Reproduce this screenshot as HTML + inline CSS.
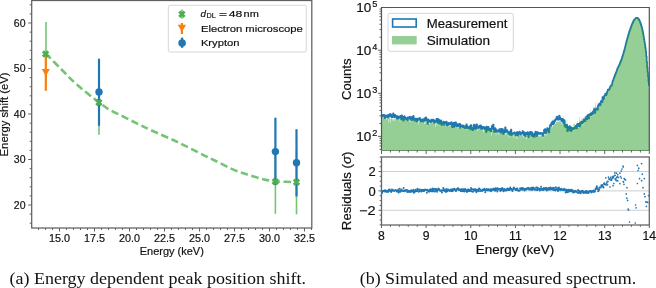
<!DOCTYPE html><html><head><meta charset="utf-8"><style>html,body{margin:0;padding:0;background:#fff;width:656px;height:288px;overflow:hidden}svg{display:block;will-change:transform}text[font-family*=Sans]{stroke:#111;stroke-width:0.18px}</style></head><body>
<svg width="656" height="288" viewBox="0 0 656 288">
<rect width="656" height="288" fill="#fff"/>
<path d="M38.50 228.00v2.0 M45.50 228.00v2.0 M52.50 228.00v2.0 M59.50 228.00v3.5 M66.50 228.00v2.0 M73.50 228.00v2.0 M80.50 228.00v2.0 M87.50 228.00v2.0 M94.50 228.00v3.5 M101.50 228.00v2.0 M108.50 228.00v2.0 M115.50 228.00v2.0 M122.50 228.00v2.0 M129.50 228.00v3.5 M136.50 228.00v2.0 M143.50 228.00v2.0 M150.50 228.00v2.0 M157.50 228.00v2.0 M164.50 228.00v3.5 M171.50 228.00v2.0 M178.50 228.00v2.0 M185.50 228.00v2.0 M192.50 228.00v2.0 M199.50 228.00v3.5 M206.50 228.00v2.0 M213.50 228.00v2.0 M220.50 228.00v2.0 M227.50 228.00v2.0 M234.50 228.00v3.5 M241.50 228.00v2.0 M248.50 228.00v2.0 M255.50 228.00v2.0 M262.50 228.00v2.0 M269.50 228.00v3.5 M276.50 228.00v2.0 M283.50 228.00v2.0 M290.50 228.00v2.0 M297.50 228.00v2.0 M304.50 228.00v3.5 M311.50 228.00v2.0 M31.70 223.20h-2.0 M31.70 214.10h-2.0 M31.70 205.00h-3.5 M31.70 195.90h-2.0 M31.70 186.80h-2.0 M31.70 177.70h-2.0 M31.70 168.60h-2.0 M31.70 159.50h-3.5 M31.70 150.40h-2.0 M31.70 141.30h-2.0 M31.70 132.20h-2.0 M31.70 123.10h-2.0 M31.70 114.00h-3.5 M31.70 104.90h-2.0 M31.70 95.80h-2.0 M31.70 86.70h-2.0 M31.70 77.60h-2.0 M31.70 68.50h-3.5 M31.70 59.40h-2.0 M31.70 50.30h-2.0 M31.70 41.20h-2.0 M31.70 32.10h-2.0 M31.70 23.00h-3.5 M31.70 13.90h-2.0 M31.70 4.80h-2.0" stroke="#3a3a3a" stroke-width="0.8" fill="none"/>
<text x="59.50" y="241.5" font-family='"Liberation Sans", sans-serif' font-size="10.2" text-anchor="middle" textLength="21" lengthAdjust="spacingAndGlyphs" fill="#111">15.0</text>
<text x="94.50" y="241.5" font-family='"Liberation Sans", sans-serif' font-size="10.2" text-anchor="middle" textLength="21" lengthAdjust="spacingAndGlyphs" fill="#111">17.5</text>
<text x="129.50" y="241.5" font-family='"Liberation Sans", sans-serif' font-size="10.2" text-anchor="middle" textLength="21" lengthAdjust="spacingAndGlyphs" fill="#111">20.0</text>
<text x="164.50" y="241.5" font-family='"Liberation Sans", sans-serif' font-size="10.2" text-anchor="middle" textLength="21" lengthAdjust="spacingAndGlyphs" fill="#111">22.5</text>
<text x="199.50" y="241.5" font-family='"Liberation Sans", sans-serif' font-size="10.2" text-anchor="middle" textLength="21" lengthAdjust="spacingAndGlyphs" fill="#111">25.0</text>
<text x="234.50" y="241.5" font-family='"Liberation Sans", sans-serif' font-size="10.2" text-anchor="middle" textLength="21" lengthAdjust="spacingAndGlyphs" fill="#111">27.5</text>
<text x="269.50" y="241.5" font-family='"Liberation Sans", sans-serif' font-size="10.2" text-anchor="middle" textLength="21" lengthAdjust="spacingAndGlyphs" fill="#111">30.0</text>
<text x="304.50" y="241.5" font-family='"Liberation Sans", sans-serif' font-size="10.2" text-anchor="middle" textLength="21" lengthAdjust="spacingAndGlyphs" fill="#111">32.5</text>
<text x="25.5" y="208.80" font-family='"Liberation Sans", sans-serif' font-size="10.5" text-anchor="end" fill="#111">20</text>
<text x="25.5" y="163.30" font-family='"Liberation Sans", sans-serif' font-size="10.5" text-anchor="end" fill="#111">30</text>
<text x="25.5" y="117.80" font-family='"Liberation Sans", sans-serif' font-size="10.5" text-anchor="end" fill="#111">40</text>
<text x="25.5" y="72.30" font-family='"Liberation Sans", sans-serif' font-size="10.5" text-anchor="end" fill="#111">50</text>
<text x="25.5" y="26.80" font-family='"Liberation Sans", sans-serif' font-size="10.5" text-anchor="end" fill="#111">60</text>
<text x="171.8" y="254.8" font-family='"Liberation Sans", sans-serif' font-size="10.2" text-anchor="middle" textLength="64" lengthAdjust="spacingAndGlyphs" fill="#111">Energy (keV)</text>
<text transform="translate(7.6 114.4) rotate(-90)" x="0" y="0" font-family='"Liberation Sans", sans-serif' font-size="10.5" text-anchor="middle" textLength="84" lengthAdjust="spacingAndGlyphs" fill="#111">Energy shift (eV)</text>
<line x1="46" y1="22" x2="46" y2="86" stroke="#74c474" stroke-width="1.6"/>
<line x1="99" y1="70.3" x2="99" y2="134.7" stroke="#74c474" stroke-width="1.6"/>
<line x1="275.4" y1="150" x2="275.4" y2="213.8" stroke="#74c474" stroke-width="1.6"/>
<line x1="296.5" y1="150.5" x2="296.5" y2="214.3" stroke="#74c474" stroke-width="1.6"/>
<path d="M45.6 53.3 C48.17 55.92 55.80 63.78 61 69 C66.20 74.22 70.50 79.06 76.8 84.6 C83.10 90.14 93.28 98.03 98.8 102.25 C104.32 106.47 105.73 107.48 109.9 109.9 C114.07 112.33 119.17 114.48 123.8 116.8 C128.43 119.12 133.33 121.65 137.7 123.8 C142.07 125.95 143.32 126.63 150 129.7 C156.68 132.77 168.63 137.85 177.8 142.2 C186.97 146.55 198.15 152.42 205 155.8 C211.85 159.18 214.27 160.23 218.9 162.5 C223.53 164.77 228.17 167.43 232.8 169.4 C237.43 171.37 242.07 172.78 246.7 174.3 C251.33 175.82 256.95 177.48 260.6 178.5 C264.25 179.52 266.15 179.92 268.6 180.4 C271.05 180.88 270.65 181.12 275.3 181.4 C279.95 181.68 292.97 181.98 296.5 182.1" stroke="#74c474" stroke-width="2.6" fill="none" stroke-dasharray="7.4 3.6"/>
<line x1="45.8" y1="55" x2="45.8" y2="90.8" stroke="#ff7f0e" stroke-width="2.2"/>
<path d="M41.7 69.0 L49.9 69.0 L45.8 76.1 Z" fill="#ff7f0e"/>
<line x1="99" y1="58.7" x2="99" y2="125.8" stroke="#1f77b4" stroke-width="2.2"/>
<circle cx="99" cy="92" r="3.7" fill="#1f77b4"/>
<line x1="275.4" y1="117.7" x2="275.4" y2="185.1" stroke="#1f77b4" stroke-width="2.2"/>
<circle cx="275.4" cy="151.6" r="3.7" fill="#1f77b4"/>
<line x1="296.5" y1="129.2" x2="296.5" y2="196.4" stroke="#1f77b4" stroke-width="2.2"/>
<circle cx="296.5" cy="162.7" r="3.7" fill="#1f77b4"/>
<path d="M41.9 52.4 L44.0 50.3 L45.6 52.11 L47.2 50.3 L49.300000000000004 52.4 L47.49 54 L49.300000000000004 55.6 L47.2 57.7 L45.6 55.89 L44.0 57.7 L41.9 55.6 L43.71 54 Z" fill="#4fae4f"/>
<path d="M95.2 100.89999999999999 L97.3 98.8 L98.9 100.61 L100.50000000000001 98.8 L102.60000000000001 100.89999999999999 L100.79 102.5 L102.60000000000001 104.10000000000001 L100.50000000000001 106.2 L98.9 104.39 L97.3 106.2 L95.2 104.10000000000001 L97.01 102.5 Z" fill="#4fae4f"/>
<path d="M271.6 180.0 L273.70000000000005 177.9 L275.3 179.71 L276.9 177.9 L279.0 180.0 L277.19 181.6 L279.0 183.2 L276.9 185.29999999999998 L275.3 183.48999999999998 L273.70000000000005 185.29999999999998 L271.6 183.2 L273.41 181.6 Z" fill="#4fae4f"/>
<path d="M292.8 180.6 L294.90000000000003 178.5 L296.5 180.31 L298.09999999999997 178.5 L300.2 180.6 L298.39 182.2 L300.2 183.79999999999998 L298.09999999999997 185.89999999999998 L296.5 184.08999999999997 L294.90000000000003 185.89999999999998 L292.8 183.79999999999998 L294.61 182.2 Z" fill="#4fae4f"/>
<rect x="168.3" y="5.3" width="138" height="46.7" rx="2" ry="2" fill="#fff" fill-opacity="0.85" stroke="#d6d6d6" stroke-width="1"/>
<line x1="181.9" y1="9.6" x2="181.9" y2="18.8" stroke="#74c474" stroke-width="1.6"/>
<path d="M178.20000000000002 12.6 L180.3 10.5 L181.9 12.309999999999999 L183.5 10.5 L185.6 12.6 L183.79 14.2 L185.6 15.799999999999999 L183.5 17.9 L181.9 16.09 L180.3 17.9 L178.20000000000002 15.799999999999999 L180.01000000000002 14.2 Z" fill="#4fae4f"/>
<line x1="181.9" y1="23" x2="181.9" y2="34" stroke="#ff7f0e" stroke-width="2.2"/>
<path d="M177.8 24.8 L186 24.8 L181.9 32 Z" fill="#ff7f0e"/>
<line x1="182.1" y1="37.6" x2="182.1" y2="47.8" stroke="#1f77b4" stroke-width="2.2"/>
<circle cx="182.1" cy="43.1" r="3.8" fill="#1f77b4"/>
<text x="200.6" y="16.9" font-family='"Liberation Sans", sans-serif' font-size="9.8" font-style="italic" fill="#111">d</text><text x="206.5" y="18.4" font-family='"Liberation Sans", sans-serif' font-size="7" textLength="9.2" lengthAdjust="spacingAndGlyphs" fill="#111">DL</text><text x="218.9" y="17.0" font-family='"Liberation Sans", sans-serif' font-size="9.6" textLength="8.0" lengthAdjust="spacingAndGlyphs" fill="#111">=</text><text x="228.8" y="16.9" font-family='"Liberation Sans", sans-serif' font-size="9.3" textLength="13.6" lengthAdjust="spacingAndGlyphs" fill="#111">48</text><text x="243.6" y="16.9" font-family='"Liberation Sans", sans-serif' font-size="9.3" textLength="15.2" lengthAdjust="spacingAndGlyphs" fill="#111">nm</text>
<text x="200.9" y="31.9" font-family='"Liberation Sans", sans-serif' font-size="9.9" textLength="102" lengthAdjust="spacingAndGlyphs" fill="#111">Electron microscope</text>
<text x="200.9" y="46.3" font-family='"Liberation Sans", sans-serif' font-size="9.9" textLength="38.6" lengthAdjust="spacingAndGlyphs" fill="#111">Krypton</text>
<rect x="31.7" y="0.5" width="280.1" height="227.5" fill="none" stroke="#606060" stroke-width="1.25"/>
<defs><clipPath id="ct"><rect x="381.5" y="7.5" width="267.79999999999995" height="143.3"/></clipPath><clipPath id="cb"><rect x="381.5" y="157.0" width="267.79999999999995" height="68.0"/></clipPath></defs>
<line x1="381.5" y1="150.5" x2="649.3" y2="150.5" stroke="#8a8a8a" stroke-width="1.0"/>
<g clip-path="url(#ct)"><path d="M381.50 116.08 L381.50 116.08 L381.95 116.08 L381.95 116.54 L382.39 116.54 L382.39 115.77 L382.84 115.77 L382.84 114.94 L383.29 114.94 L383.29 115.58 L383.73 115.58 L383.73 114.87 L384.18 114.87 L384.18 116.37 L384.62 116.37 L384.62 118.21 L385.07 118.21 L385.07 115.67 L385.52 115.67 L385.52 115.52 L385.96 115.52 L385.96 117.11 L386.41 117.11 L386.41 116.96 L386.86 116.96 L386.86 116.64 L387.30 116.64 L387.30 115.22 L387.75 115.22 L387.75 116.52 L388.19 116.52 L388.19 117.57 L388.64 117.57 L388.64 114.73 L389.09 114.73 L389.09 116.01 L389.53 116.01 L389.53 114.01 L389.98 114.01 L389.98 114.90 L390.43 114.90 L390.43 114.15 L390.87 114.15 L390.87 116.46 L391.32 116.46 L391.32 115.03 L391.77 115.03 L391.77 117.24 L392.21 117.24 L392.21 117.11 L392.66 117.11 L392.66 116.66 L393.10 116.66 L393.10 113.39 L393.55 113.39 L393.55 116.23 L394.00 116.23 L394.00 116.96 L394.44 116.96 L394.44 117.22 L394.89 117.22 L394.89 114.92 L395.34 114.92 L395.34 116.45 L395.78 116.45 L395.78 115.77 L396.23 115.77 L396.23 116.05 L396.68 116.05 L396.68 118.74 L397.12 118.74 L397.12 116.12 L397.57 116.12 L397.57 117.26 L398.01 117.26 L398.01 118.60 L398.46 118.60 L398.46 116.55 L398.91 116.55 L398.91 117.26 L399.35 117.26 L399.35 117.61 L399.80 117.61 L399.80 117.58 L400.25 117.58 L400.25 115.78 L400.69 115.78 L400.69 117.68 L401.14 117.68 L401.14 119.55 L401.58 119.55 L401.58 115.43 L402.03 115.43 L402.03 118.92 L402.48 118.92 L402.48 117.90 L402.92 117.90 L402.92 116.85 L403.37 116.85 L403.37 120.68 L403.82 120.68 L403.82 118.94 L404.26 118.94 L404.26 116.17 L404.71 116.17 L404.71 118.04 L405.16 118.04 L405.16 118.81 L405.60 118.81 L405.60 117.75 L406.05 117.75 L406.05 119.05 L406.49 119.05 L406.49 118.02 L406.94 118.02 L406.94 119.12 L407.39 119.12 L407.39 120.28 L407.83 120.28 L407.83 117.27 L408.28 117.27 L408.28 118.59 L408.73 118.59 L408.73 117.67 L409.17 117.67 L409.17 118.57 L409.62 118.57 L409.62 116.72 L410.07 116.72 L410.07 117.64 L410.51 117.64 L410.51 118.25 L410.96 118.25 L410.96 119.88 L411.40 119.88 L411.40 120.29 L411.85 120.29 L411.85 116.75 L412.30 116.75 L412.30 117.57 L412.74 117.57 L412.74 119.72 L413.19 119.72 L413.19 115.92 L413.64 115.92 L413.64 118.20 L414.08 118.20 L414.08 118.78 L414.53 118.78 L414.53 120.81 L414.98 120.81 L414.98 120.03 L415.42 120.03 L415.42 118.60 L415.87 118.60 L415.87 118.59 L416.31 118.59 L416.31 118.81 L416.76 118.81 L416.76 121.46 L417.21 121.46 L417.21 118.66 L417.65 118.66 L417.65 118.89 L418.10 118.89 L418.10 119.91 L418.55 119.91 L418.55 119.27 L418.99 119.27 L418.99 119.21 L419.44 119.21 L419.44 117.91 L419.88 117.91 L419.88 119.59 L420.33 119.59 L420.33 119.01 L420.78 119.01 L420.78 121.44 L421.22 121.44 L421.22 120.73 L421.67 120.73 L421.67 119.79 L422.12 119.79 L422.12 120.87 L422.56 120.87 L422.56 119.43 L423.01 119.43 L423.01 121.55 L423.46 121.55 L423.46 120.04 L423.90 120.04 L423.90 120.97 L424.35 120.97 L424.35 118.25 L424.79 118.25 L424.79 120.74 L425.24 120.74 L425.24 117.77 L425.69 117.77 L425.69 117.31 L426.13 117.31 L426.13 119.94 L426.58 119.94 L426.58 119.11 L427.03 119.11 L427.03 120.76 L427.47 120.76 L427.47 123.93 L427.92 123.93 L427.92 119.39 L428.37 119.39 L428.37 119.76 L428.81 119.76 L428.81 121.06 L429.26 121.06 L429.26 121.55 L429.70 121.55 L429.70 120.61 L430.15 120.61 L430.15 120.63 L430.60 120.63 L430.60 122.06 L431.04 122.06 L431.04 121.84 L431.49 121.84 L431.49 119.57 L431.94 119.57 L431.94 121.07 L432.38 121.07 L432.38 121.30 L432.83 121.30 L432.83 119.72 L433.27 119.72 L433.27 121.77 L433.72 121.77 L433.72 120.15 L434.17 120.15 L434.17 122.98 L434.61 122.98 L434.61 121.87 L435.06 121.87 L435.06 121.78 L435.51 121.78 L435.51 120.82 L435.95 120.82 L435.95 121.61 L436.40 121.61 L436.40 118.82 L436.85 118.82 L436.85 120.21 L437.29 120.21 L437.29 122.55 L437.74 122.55 L437.74 118.82 L438.18 118.82 L438.18 123.44 L438.63 123.44 L438.63 119.55 L439.08 119.55 L439.08 123.45 L439.52 123.45 L439.52 121.07 L439.97 121.07 L439.97 123.63 L440.42 123.63 L440.42 122.71 L440.86 122.71 L440.86 120.23 L441.31 120.23 L441.31 124.58 L441.75 124.58 L441.75 124.96 L442.20 124.96 L442.20 122.71 L442.65 122.71 L442.65 122.47 L443.09 122.47 L443.09 122.72 L443.54 122.72 L443.54 121.53 L443.99 121.53 L443.99 124.82 L444.43 124.82 L444.43 122.35 L444.88 122.35 L444.88 123.19 L445.33 123.19 L445.33 122.12 L445.77 122.12 L445.77 122.45 L446.22 122.45 L446.22 121.52 L446.66 121.52 L446.66 125.54 L447.11 125.54 L447.11 123.42 L447.56 123.42 L447.56 125.24 L448.00 125.24 L448.00 123.83 L448.45 123.83 L448.45 122.80 L448.90 122.80 L448.90 123.45 L449.34 123.45 L449.34 123.16 L449.79 123.16 L449.79 124.13 L450.24 124.13 L450.24 123.60 L450.68 123.60 L450.68 123.80 L451.13 123.80 L451.13 122.18 L451.57 122.18 L451.57 123.15 L452.02 123.15 L452.02 127.10 L452.47 127.10 L452.47 123.51 L452.91 123.51 L452.91 122.98 L453.36 122.98 L453.36 125.25 L453.81 125.25 L453.81 127.02 L454.25 127.02 L454.25 122.56 L454.70 122.56 L454.70 124.61 L455.14 124.61 L455.14 124.01 L455.59 124.01 L455.59 122.28 L456.04 122.28 L456.04 126.32 L456.48 126.32 L456.48 125.18 L456.93 125.18 L456.93 125.41 L457.38 125.41 L457.38 124.16 L457.82 124.16 L457.82 126.16 L458.27 126.16 L458.27 124.64 L458.72 124.64 L458.72 125.34 L459.16 125.34 L459.16 123.86 L459.61 123.86 L459.61 123.75 L460.05 123.75 L460.05 127.90 L460.50 127.90 L460.50 125.01 L460.95 125.01 L460.95 126.35 L461.39 126.35 L461.39 125.89 L461.84 125.89 L461.84 125.30 L462.29 125.30 L462.29 125.26 L462.73 125.26 L462.73 127.13 L463.18 127.13 L463.18 125.70 L463.63 125.70 L463.63 126.00 L464.07 126.00 L464.07 126.33 L464.52 126.33 L464.52 128.23 L464.96 128.23 L464.96 127.49 L465.41 127.49 L465.41 127.07 L465.86 127.07 L465.86 125.60 L466.30 125.60 L466.30 124.34 L466.75 124.34 L466.75 128.12 L467.20 128.12 L467.20 128.20 L467.64 128.20 L467.64 126.48 L468.09 126.48 L468.09 127.62 L468.53 127.62 L468.53 128.05 L468.98 128.05 L468.98 128.17 L469.43 128.17 L469.43 128.37 L469.87 128.37 L469.87 126.21 L470.32 126.21 L470.32 129.41 L470.77 129.41 L470.77 125.03 L471.21 125.03 L471.21 128.45 L471.66 128.45 L471.66 127.91 L472.11 127.91 L472.11 128.56 L472.55 128.56 L472.55 130.22 L473.00 130.22 L473.00 129.63 L473.44 129.63 L473.44 125.47 L473.89 125.47 L473.89 124.65 L474.34 124.65 L474.34 128.70 L474.78 128.70 L474.78 125.82 L475.23 125.82 L475.23 127.47 L475.68 127.47 L475.68 128.88 L476.12 128.88 L476.12 124.95 L476.57 124.95 L476.57 124.26 L477.02 124.26 L477.02 128.09 L477.46 128.09 L477.46 127.80 L477.91 127.80 L477.91 127.39 L478.35 127.39 L478.35 127.89 L478.80 127.89 L478.80 126.51 L479.25 126.51 L479.25 125.51 L479.69 125.51 L479.69 127.72 L480.14 127.72 L480.14 126.49 L480.59 126.49 L480.59 125.47 L481.03 125.47 L481.03 128.96 L481.48 128.96 L481.48 128.11 L481.92 128.11 L481.92 128.92 L482.37 128.92 L482.37 126.74 L482.82 126.74 L482.82 127.33 L483.26 127.33 L483.26 126.84 L483.71 126.84 L483.71 127.08 L484.16 127.08 L484.16 128.87 L484.60 128.87 L484.60 127.36 L485.05 127.36 L485.05 129.24 L485.50 129.24 L485.50 129.28 L485.94 129.28 L485.94 132.03 L486.39 132.03 L486.39 126.62 L486.83 126.62 L486.83 130.33 L487.28 130.33 L487.28 128.83 L487.73 128.83 L487.73 129.01 L488.17 129.01 L488.17 126.77 L488.62 126.77 L488.62 128.42 L489.07 128.42 L489.07 130.40 L489.51 130.40 L489.51 129.14 L489.96 129.14 L489.96 129.47 L490.41 129.47 L490.41 128.93 L490.85 128.93 L490.85 131.31 L491.30 131.31 L491.30 129.49 L491.74 129.49 L491.74 126.06 L492.19 126.06 L492.19 128.54 L492.64 128.54 L492.64 126.55 L493.08 126.55 L493.08 124.56 L493.53 124.56 L493.53 128.98 L493.98 128.98 L493.98 132.02 L494.42 132.02 L494.42 130.03 L494.87 130.03 L494.87 128.14 L495.31 128.14 L495.31 128.57 L495.76 128.57 L495.76 131.95 L496.21 131.95 L496.21 130.46 L496.65 130.46 L496.65 130.35 L497.10 130.35 L497.10 130.25 L497.55 130.25 L497.55 130.47 L497.99 130.47 L497.99 131.76 L498.44 131.76 L498.44 131.43 L498.89 131.43 L498.89 130.96 L499.33 130.96 L499.33 129.01 L499.78 129.01 L499.78 131.57 L500.22 131.57 L500.22 129.73 L500.67 129.73 L500.67 132.65 L501.12 132.65 L501.12 128.93 L501.56 128.93 L501.56 130.82 L502.01 130.82 L502.01 131.10 L502.46 131.10 L502.46 129.07 L502.90 129.07 L502.90 134.01 L503.35 134.01 L503.35 133.67 L503.80 133.67 L503.80 130.66 L504.24 130.66 L504.24 132.71 L504.69 132.71 L504.69 132.15 L505.13 132.15 L505.13 127.43 L505.58 127.43 L505.58 132.09 L506.03 132.09 L506.03 131.66 L506.47 131.66 L506.47 131.96 L506.92 131.96 L506.92 130.17 L507.37 130.17 L507.37 131.53 L507.81 131.53 L507.81 131.75 L508.26 131.75 L508.26 134.00 L508.70 134.00 L508.70 132.70 L509.15 132.70 L509.15 132.22 L509.60 132.22 L509.60 134.74 L510.04 134.74 L510.04 131.46 L510.49 131.46 L510.49 131.79 L510.94 131.79 L510.94 129.56 L511.38 129.56 L511.38 135.04 L511.83 135.04 L511.83 134.13 L512.28 134.13 L512.28 134.10 L512.72 134.10 L512.72 133.76 L513.17 133.76 L513.17 132.92 L513.61 132.92 L513.61 133.14 L514.06 133.14 L514.06 132.43 L514.51 132.43 L514.51 132.56 L514.95 132.56 L514.95 133.01 L515.40 133.01 L515.40 135.39 L515.85 135.39 L515.85 133.90 L516.29 133.90 L516.29 132.95 L516.74 132.95 L516.74 132.15 L517.19 132.15 L517.19 132.10 L517.63 132.10 L517.63 135.72 L518.08 135.72 L518.08 134.00 L518.52 134.00 L518.52 133.34 L518.97 133.34 L518.97 132.71 L519.42 132.71 L519.42 131.53 L519.86 131.53 L519.86 133.23 L520.31 133.23 L520.31 134.77 L520.76 134.77 L520.76 132.78 L521.20 132.78 L521.20 133.08 L521.65 133.08 L521.65 133.12 L522.10 133.12 L522.10 133.68 L522.54 133.68 L522.54 130.99 L522.99 130.99 L522.99 133.19 L523.43 133.19 L523.43 132.23 L523.88 132.23 L523.88 135.04 L524.33 135.04 L524.33 132.42 L524.77 132.42 L524.77 134.60 L525.22 134.60 L525.22 136.14 L525.67 136.14 L525.67 133.22 L526.11 133.22 L526.11 132.78 L526.56 132.78 L526.56 134.07 L527.00 134.07 L527.00 133.78 L527.45 133.78 L527.45 132.21 L527.90 132.21 L527.90 134.55 L528.34 134.55 L528.34 137.05 L528.79 137.05 L528.79 133.42 L529.24 133.42 L529.24 133.52 L529.68 133.52 L529.68 132.18 L530.13 132.18 L530.13 134.37 L530.58 134.37 L530.58 131.87 L531.02 131.87 L531.02 132.10 L531.47 132.10 L531.47 135.91 L531.91 135.91 L531.91 132.42 L532.36 132.42 L532.36 135.59 L532.81 135.59 L532.81 136.29 L533.25 136.29 L533.25 134.26 L533.70 134.26 L533.70 134.72 L534.15 134.72 L534.15 136.94 L534.59 136.94 L534.59 133.49 L535.04 133.49 L535.04 132.83 L535.48 132.83 L535.48 131.59 L535.93 131.59 L535.93 133.80 L536.38 133.80 L536.38 136.07 L536.82 136.07 L536.82 135.21 L537.27 135.21 L537.27 132.13 L537.72 132.13 L537.72 132.24 L538.16 132.24 L538.16 132.76 L538.61 132.76 L538.61 134.00 L539.06 134.00 L539.06 133.16 L539.50 133.16 L539.50 133.79 L539.95 133.79 L539.95 133.88 L540.39 133.88 L540.39 132.87 L540.84 132.87 L540.84 133.22 L541.29 133.22 L541.29 133.55 L541.73 133.55 L541.73 133.01 L542.18 133.01 L542.18 133.85 L542.63 133.85 L542.63 135.94 L543.07 135.94 L543.07 133.77 L543.52 133.77 L543.52 132.78 L543.97 132.78 L543.97 129.83 L544.41 129.83 L544.41 132.98 L544.86 132.98 L544.86 129.05 L545.30 129.05 L545.30 129.70 L545.75 129.70 L545.75 133.10 L546.20 133.10 L546.20 132.61 L546.64 132.61 L546.64 130.95 L547.09 130.95 L547.09 128.12 L547.54 128.12 L547.54 129.88 L547.98 129.88 L547.98 128.93 L548.43 128.93 L548.43 130.50 L548.88 130.50 L548.88 132.45 L549.32 132.45 L549.32 128.45 L549.77 128.45 L549.77 126.07 L550.21 126.07 L550.21 124.64 L550.66 124.64 L550.66 125.64 L551.11 125.64 L551.11 124.72 L551.55 124.72 L551.55 122.53 L552.00 122.53 L552.00 123.90 L552.45 123.90 L552.45 121.33 L552.89 121.33 L552.89 124.23 L553.34 124.23 L553.34 123.59 L553.78 123.59 L553.78 123.09 L554.23 123.09 L554.23 120.26 L554.68 120.26 L554.68 121.32 L555.12 121.32 L555.12 119.96 L555.57 119.96 L555.57 119.20 L556.02 119.20 L556.02 118.92 L556.46 118.92 L556.46 117.18 L556.91 117.18 L556.91 116.68 L557.36 116.68 L557.36 119.68 L557.80 119.68 L557.80 118.05 L558.25 118.05 L558.25 118.51 L558.69 118.51 L558.69 119.58 L559.14 119.58 L559.14 115.65 L559.59 115.65 L559.59 117.14 L560.03 117.14 L560.03 118.74 L560.48 118.74 L560.48 119.37 L560.93 119.37 L560.93 118.62 L561.37 118.62 L561.37 121.11 L561.82 121.11 L561.82 120.37 L562.26 120.37 L562.26 118.74 L562.71 118.74 L562.71 119.70 L563.16 119.70 L563.16 122.97 L563.60 122.97 L563.60 123.16 L564.05 123.16 L564.05 120.21 L564.50 120.21 L564.50 125.92 L564.94 125.92 L564.94 125.34 L565.39 125.34 L565.39 127.09 L565.84 127.09 L565.84 124.90 L566.28 124.90 L566.28 125.57 L566.73 125.57 L566.73 124.75 L567.17 124.75 L567.17 131.10 L567.62 131.10 L567.62 127.20 L568.07 127.20 L568.07 130.42 L568.51 130.42 L568.51 127.19 L568.96 127.19 L568.96 128.77 L569.41 128.77 L569.41 126.09 L569.85 126.09 L569.85 128.37 L570.30 128.37 L570.30 130.73 L570.75 130.73 L570.75 127.30 L571.19 127.30 L571.19 131.12 L571.64 131.12 L571.64 130.01 L572.08 130.01 L572.08 127.82 L572.53 127.82 L572.53 128.66 L572.98 128.66 L572.98 128.65 L573.42 128.65 L573.42 129.17 L573.87 129.17 L573.87 128.21 L574.32 128.21 L574.32 127.50 L574.76 127.50 L574.76 128.05 L575.21 128.05 L575.21 126.57 L575.65 126.57 L575.65 125.78 L576.10 125.78 L576.10 127.38 L576.55 127.38 L576.55 128.46 L576.99 128.46 L576.99 124.17 L577.44 124.17 L577.44 126.19 L577.89 126.19 L577.89 124.70 L578.33 124.70 L578.33 123.75 L578.78 123.75 L578.78 126.23 L579.23 126.23 L579.23 123.65 L579.67 123.65 L579.67 126.42 L580.12 126.42 L580.12 122.49 L580.56 122.49 L580.56 123.95 L581.01 123.95 L581.01 122.64 L581.46 122.64 L581.46 121.48 L581.90 121.48 L581.90 123.19 L582.35 123.19 L582.35 121.70 L582.80 121.70 L582.80 122.51 L583.24 122.51 L583.24 121.17 L583.69 121.17 L583.69 119.27 L584.14 119.27 L584.14 120.40 L584.58 120.40 L584.58 120.28 L585.03 120.28 L585.03 121.26 L585.47 121.26 L585.47 118.16 L585.92 118.16 L585.92 119.07 L586.37 119.07 L586.37 116.26 L586.81 116.26 L586.81 119.34 L587.26 119.34 L587.26 116.46 L587.71 116.46 L587.71 115.05 L588.15 115.05 L588.15 117.15 L588.60 117.15 L588.60 118.40 L589.04 118.40 L589.04 114.28 L589.49 114.28 L589.49 114.48 L589.94 114.48 L589.94 114.53 L590.38 114.53 L590.38 113.57 L590.83 113.57 L590.83 115.21 L591.28 115.21 L591.28 113.15 L591.72 113.15 L591.72 112.83 L592.17 112.83 L592.17 114.14 L592.62 114.14 L592.62 111.91 L593.06 111.91 L593.06 113.03 L593.51 113.03 L593.51 110.72 L593.95 110.72 L593.95 109.95 L594.40 109.95 L594.40 108.68 L594.85 108.68 L594.85 112.95 L595.29 112.95 L595.29 109.67 L595.74 109.67 L595.74 109.88 L596.19 109.88 L596.19 109.02 L596.63 109.02 L596.63 108.73 L597.08 108.73 L597.08 108.05 L597.53 108.05 L597.53 109.76 L597.97 109.76 L597.97 105.63 L598.42 105.63 L598.42 104.44 L598.86 104.44 L598.86 104.51 L599.31 104.51 L599.31 103.53 L599.76 103.53 L599.76 105.32 L600.20 105.32 L600.20 104.73 L600.65 104.73 L600.65 102.01 L601.10 102.01 L601.10 100.81 L601.54 100.81 L601.54 101.18 L601.99 101.18 L601.99 102.27 L602.43 102.27 L602.43 96.98 L602.88 96.98 L602.88 99.69 L603.33 99.69 L603.33 97.22 L603.77 97.22 L603.77 98.56 L604.22 98.56 L604.22 95.65 L604.67 95.65 L604.67 95.67 L605.11 95.67 L605.11 93.77 L605.56 93.77 L605.56 93.59 L606.01 93.59 L606.01 95.12 L606.45 95.12 L606.45 93.93 L606.90 93.93 L606.90 92.17 L607.34 92.17 L607.34 91.11 L607.79 91.11 L607.79 89.57 L608.24 89.57 L608.24 90.20 L608.68 90.20 L608.68 89.80 L609.13 89.80 L609.13 89.01 L609.58 89.01 L609.58 88.20 L610.02 88.20 L610.02 86.52 L610.47 86.52 L610.47 86.43 L610.92 86.43 L610.92 85.46 L611.36 85.46 L611.36 85.39 L611.81 85.39 L611.81 84.67 L612.25 84.67 L612.25 82.12 L612.70 82.12 L612.70 80.55 L613.15 80.55 L613.15 79.82 L613.59 79.82 L613.59 78.28 L614.04 78.28 L614.04 77.00 L614.49 77.00 L614.49 76.17 L614.93 76.17 L614.93 74.43 L615.38 74.43 L615.38 74.09 L615.82 74.09 L615.82 72.54 L616.27 72.54 L616.27 71.55 L616.72 71.55 L616.72 70.23 L617.16 70.23 L617.16 68.93 L617.61 68.93 L617.61 67.83 L618.06 67.83 L618.06 67.11 L618.50 67.11 L618.50 66.03 L618.95 66.03 L618.95 65.31 L619.40 65.31 L619.40 64.25 L619.84 64.25 L619.84 62.86 L620.29 62.86 L620.29 62.20 L620.73 62.20 L620.73 60.76 L621.18 60.76 L621.18 59.77 L621.63 59.77 L621.63 58.58 L622.07 58.58 L622.07 56.96 L622.52 56.96 L622.52 55.85 L622.97 55.85 L622.97 54.36 L623.41 54.36 L623.41 52.77 L623.86 52.77 L623.86 51.14 L624.31 51.14 L624.31 49.53 L624.75 49.53 L624.75 47.74 L625.20 47.74 L625.20 46.03 L625.64 46.03 L625.64 44.17 L626.09 44.17 L626.09 42.44 L626.54 42.44 L626.54 40.52 L626.98 40.52 L626.98 39.06 L627.43 39.06 L627.43 37.48 L627.88 37.48 L627.88 35.92 L628.32 35.92 L628.32 34.39 L628.77 34.39 L628.77 33.06 L629.21 33.06 L629.21 31.37 L629.66 31.37 L629.66 30.28 L630.11 30.28 L630.11 28.93 L630.55 28.93 L630.55 27.67 L631.00 27.67 L631.00 26.47 L631.45 26.47 L631.45 25.16 L631.89 25.16 L631.89 24.09 L632.34 24.09 L632.34 23.14 L632.79 23.14 L632.79 22.13 L633.23 22.13 L633.23 21.21 L633.68 21.21 L633.68 20.21 L634.12 20.21 L634.12 19.79 L634.57 19.79 L634.57 19.27 L635.02 19.27 L635.02 18.75 L635.46 18.75 L635.46 18.26 L635.91 18.26 L635.91 17.77 L636.36 17.77 L636.36 17.97 L636.80 17.97 L636.80 17.87 L637.25 17.87 L637.25 17.75 L637.70 17.75 L637.70 18.44 L638.14 18.44 L638.14 18.66 L638.59 18.66 L638.59 19.28 L639.03 19.28 L639.03 20.09 L639.48 20.09 L639.48 21.19 L639.93 21.19 L639.93 21.96 L640.37 21.96 L640.37 23.17 L640.82 23.17 L640.82 24.67 L641.27 24.67 L641.27 26.16 L641.71 26.16 L641.71 27.68 L642.16 27.68 L642.16 29.65 L642.61 29.65 L642.61 31.72 L643.05 31.72 L643.05 34.18 L643.50 34.18 L643.50 36.85 L643.94 36.85 L643.94 39.46 L644.39 39.46 L644.39 42.04 L644.84 42.04 L644.84 44.93 L645.28 44.93 L645.28 47.84 L645.73 47.84 L645.73 51.61 L646.18 51.61 L646.18 56.34 L646.62 56.34 L646.62 61.85 L647.07 61.85 L647.07 67.43 L647.51 67.43 L647.51 72.09 L647.96 72.09 L647.96 76.45 L648.41 76.45 L648.41 81.51 L648.85 81.51 L648.85 85.13 L649.30 85.13" fill="none" stroke="#1f77b4" stroke-width="1.7" stroke-linejoin="round"/>
<path d="M381.50 152.5 L381.50 115.73 L381.95 115.73 L381.95 117.90 L382.39 117.90 L382.39 117.32 L382.84 117.32 L382.84 117.71 L383.29 117.71 L383.29 115.81 L383.73 115.81 L383.73 117.13 L384.18 117.13 L384.18 116.94 L384.62 116.94 L384.62 116.72 L385.07 116.72 L385.07 115.41 L385.52 115.41 L385.52 117.30 L385.96 117.30 L385.96 118.52 L386.41 118.52 L386.41 119.62 L386.86 119.62 L386.86 117.14 L387.30 117.14 L387.30 117.74 L387.75 117.74 L387.75 118.52 L388.19 118.52 L388.19 115.15 L388.64 115.15 L388.64 122.37 L389.09 122.37 L389.09 118.42 L389.53 118.42 L389.53 118.59 L389.98 118.59 L389.98 122.73 L390.43 122.73 L390.43 119.10 L390.87 119.10 L390.87 118.33 L391.32 118.33 L391.32 118.35 L391.77 118.35 L391.77 118.86 L392.21 118.86 L392.21 120.74 L392.66 120.74 L392.66 118.12 L393.10 118.12 L393.10 119.08 L393.55 119.08 L393.55 120.14 L394.00 120.14 L394.00 118.11 L394.44 118.11 L394.44 120.91 L394.89 120.91 L394.89 118.53 L395.34 118.53 L395.34 119.68 L395.78 119.68 L395.78 118.38 L396.23 118.38 L396.23 119.88 L396.68 119.88 L396.68 117.53 L397.12 117.53 L397.12 118.33 L397.57 118.33 L397.57 118.36 L398.01 118.36 L398.01 119.36 L398.46 119.36 L398.46 119.65 L398.91 119.65 L398.91 117.18 L399.35 117.18 L399.35 117.80 L399.80 117.80 L399.80 122.09 L400.25 122.09 L400.25 118.13 L400.69 118.13 L400.69 117.32 L401.14 117.32 L401.14 119.88 L401.58 119.88 L401.58 119.38 L402.03 119.38 L402.03 119.42 L402.48 119.42 L402.48 118.51 L402.92 118.51 L402.92 120.04 L403.37 120.04 L403.37 118.83 L403.82 118.83 L403.82 120.19 L404.26 120.19 L404.26 118.25 L404.71 118.25 L404.71 118.35 L405.16 118.35 L405.16 119.44 L405.60 119.44 L405.60 118.59 L406.05 118.59 L406.05 120.00 L406.49 120.00 L406.49 119.63 L406.94 119.63 L406.94 118.50 L407.39 118.50 L407.39 119.54 L407.83 119.54 L407.83 119.16 L408.28 119.16 L408.28 120.47 L408.73 120.47 L408.73 118.98 L409.17 118.98 L409.17 119.22 L409.62 119.22 L409.62 120.91 L410.07 120.91 L410.07 121.98 L410.51 121.98 L410.51 121.79 L410.96 121.79 L410.96 119.91 L411.40 119.91 L411.40 120.12 L411.85 120.12 L411.85 121.48 L412.30 121.48 L412.30 119.87 L412.74 119.87 L412.74 119.07 L413.19 119.07 L413.19 120.22 L413.64 120.22 L413.64 120.60 L414.08 120.60 L414.08 119.37 L414.53 119.37 L414.53 118.60 L414.98 118.60 L414.98 118.86 L415.42 118.86 L415.42 121.03 L415.87 121.03 L415.87 119.65 L416.31 119.65 L416.31 120.32 L416.76 120.32 L416.76 120.73 L417.21 120.73 L417.21 121.19 L417.65 121.19 L417.65 120.28 L418.10 120.28 L418.10 124.53 L418.55 124.53 L418.55 119.83 L418.99 119.83 L418.99 120.42 L419.44 120.42 L419.44 119.80 L419.88 119.80 L419.88 122.04 L420.33 122.04 L420.33 120.92 L420.78 120.92 L420.78 120.26 L421.22 120.26 L421.22 120.70 L421.67 120.70 L421.67 120.89 L422.12 120.89 L422.12 121.89 L422.56 121.89 L422.56 119.61 L423.01 119.61 L423.01 120.23 L423.46 120.23 L423.46 120.96 L423.90 120.96 L423.90 123.99 L424.35 123.99 L424.35 122.44 L424.79 122.44 L424.79 121.41 L425.24 121.41 L425.24 122.31 L425.69 122.31 L425.69 123.75 L426.13 123.75 L426.13 121.46 L426.58 121.46 L426.58 121.38 L427.03 121.38 L427.03 123.06 L427.47 123.06 L427.47 125.60 L427.92 125.60 L427.92 122.63 L428.37 122.63 L428.37 121.48 L428.81 121.48 L428.81 124.05 L429.26 124.05 L429.26 123.89 L429.70 123.89 L429.70 122.77 L430.15 122.77 L430.15 122.96 L430.60 122.96 L430.60 120.22 L431.04 120.22 L431.04 123.04 L431.49 123.04 L431.49 122.24 L431.94 122.24 L431.94 122.95 L432.38 122.95 L432.38 123.28 L432.83 123.28 L432.83 122.28 L433.27 122.28 L433.27 120.95 L433.72 120.95 L433.72 123.15 L434.17 123.15 L434.17 122.07 L434.61 122.07 L434.61 122.56 L435.06 122.56 L435.06 127.05 L435.51 127.05 L435.51 122.69 L435.95 122.69 L435.95 120.70 L436.40 120.70 L436.40 124.46 L436.85 124.46 L436.85 123.52 L437.29 123.52 L437.29 124.50 L437.74 124.50 L437.74 125.48 L438.18 125.48 L438.18 123.50 L438.63 123.50 L438.63 121.66 L439.08 121.66 L439.08 122.69 L439.52 122.69 L439.52 122.43 L439.97 122.43 L439.97 123.25 L440.42 123.25 L440.42 123.94 L440.86 123.94 L440.86 121.82 L441.31 121.82 L441.31 124.37 L441.75 124.37 L441.75 122.49 L442.20 122.49 L442.20 124.48 L442.65 124.48 L442.65 124.12 L443.09 124.12 L443.09 123.98 L443.54 123.98 L443.54 124.32 L443.99 124.32 L443.99 123.90 L444.43 123.90 L444.43 123.90 L444.88 123.90 L444.88 122.83 L445.33 122.83 L445.33 124.68 L445.77 124.68 L445.77 126.76 L446.22 126.76 L446.22 126.98 L446.66 126.98 L446.66 126.36 L447.11 126.36 L447.11 125.78 L447.56 125.78 L447.56 124.37 L448.00 124.37 L448.00 126.73 L448.45 126.73 L448.45 125.20 L448.90 125.20 L448.90 125.26 L449.34 125.26 L449.34 125.10 L449.79 125.10 L449.79 125.59 L450.24 125.59 L450.24 125.10 L450.68 125.10 L450.68 125.55 L451.13 125.55 L451.13 124.55 L451.57 124.55 L451.57 125.39 L452.02 125.39 L452.02 128.35 L452.47 128.35 L452.47 125.88 L452.91 125.88 L452.91 125.77 L453.36 125.77 L453.36 126.68 L453.81 126.68 L453.81 126.95 L454.25 126.95 L454.25 127.16 L454.70 127.16 L454.70 126.10 L455.14 126.10 L455.14 127.40 L455.59 127.40 L455.59 126.77 L456.04 126.77 L456.04 126.68 L456.48 126.68 L456.48 128.32 L456.93 128.32 L456.93 125.94 L457.38 125.94 L457.38 126.85 L457.82 126.85 L457.82 126.26 L458.27 126.26 L458.27 128.53 L458.72 128.53 L458.72 124.82 L459.16 124.82 L459.16 126.29 L459.61 126.29 L459.61 126.51 L460.05 126.51 L460.05 127.89 L460.50 127.89 L460.50 127.89 L460.95 127.89 L460.95 128.82 L461.39 128.82 L461.39 125.62 L461.84 125.62 L461.84 128.23 L462.29 128.23 L462.29 127.15 L462.73 127.15 L462.73 126.79 L463.18 126.79 L463.18 128.18 L463.63 128.18 L463.63 126.63 L464.07 126.63 L464.07 125.41 L464.52 125.41 L464.52 127.34 L464.96 127.34 L464.96 126.15 L465.41 126.15 L465.41 127.14 L465.86 127.14 L465.86 128.31 L466.30 128.31 L466.30 128.30 L466.75 128.30 L466.75 129.75 L467.20 129.75 L467.20 127.83 L467.64 127.83 L467.64 126.42 L468.09 126.42 L468.09 127.32 L468.53 127.32 L468.53 127.19 L468.98 127.19 L468.98 126.91 L469.43 126.91 L469.43 128.77 L469.87 128.77 L469.87 127.63 L470.32 127.63 L470.32 126.21 L470.77 126.21 L470.77 129.20 L471.21 129.20 L471.21 128.35 L471.66 128.35 L471.66 128.91 L472.11 128.91 L472.11 128.68 L472.55 128.68 L472.55 129.31 L473.00 129.31 L473.00 128.70 L473.44 128.70 L473.44 130.06 L473.89 130.06 L473.89 129.22 L474.34 129.22 L474.34 129.23 L474.78 129.23 L474.78 129.29 L475.23 129.29 L475.23 127.29 L475.68 127.29 L475.68 128.75 L476.12 128.75 L476.12 128.70 L476.57 128.70 L476.57 129.26 L477.02 129.26 L477.02 127.59 L477.46 127.59 L477.46 130.93 L477.91 130.93 L477.91 129.29 L478.35 129.29 L478.35 127.90 L478.80 127.90 L478.80 127.40 L479.25 127.40 L479.25 129.03 L479.69 129.03 L479.69 129.29 L480.14 129.29 L480.14 128.65 L480.59 128.65 L480.59 129.60 L481.03 129.60 L481.03 128.85 L481.48 128.85 L481.48 130.22 L481.92 130.22 L481.92 128.87 L482.37 128.87 L482.37 129.68 L482.82 129.68 L482.82 130.86 L483.26 130.86 L483.26 132.67 L483.71 132.67 L483.71 128.79 L484.16 128.79 L484.16 129.44 L484.60 129.44 L484.60 129.09 L485.05 129.09 L485.05 130.94 L485.50 130.94 L485.50 128.87 L485.94 128.87 L485.94 129.66 L486.39 129.66 L486.39 130.22 L486.83 130.22 L486.83 129.23 L487.28 129.23 L487.28 129.32 L487.73 129.32 L487.73 129.91 L488.17 129.91 L488.17 130.31 L488.62 130.31 L488.62 128.96 L489.07 128.96 L489.07 130.16 L489.51 130.16 L489.51 130.84 L489.96 130.84 L489.96 130.53 L490.41 130.53 L490.41 128.85 L490.85 128.85 L490.85 130.35 L491.30 130.35 L491.30 135.74 L491.74 135.74 L491.74 131.59 L492.19 131.59 L492.19 130.96 L492.64 130.96 L492.64 130.13 L493.08 130.13 L493.08 131.86 L493.53 131.86 L493.53 130.59 L493.98 130.59 L493.98 130.00 L494.42 130.00 L494.42 130.47 L494.87 130.47 L494.87 133.01 L495.31 133.01 L495.31 131.72 L495.76 131.72 L495.76 135.04 L496.21 135.04 L496.21 131.08 L496.65 131.08 L496.65 132.70 L497.10 132.70 L497.10 131.07 L497.55 131.07 L497.55 131.63 L497.99 131.63 L497.99 134.61 L498.44 134.61 L498.44 132.79 L498.89 132.79 L498.89 131.46 L499.33 131.46 L499.33 131.99 L499.78 131.99 L499.78 132.51 L500.22 132.51 L500.22 133.56 L500.67 133.56 L500.67 131.76 L501.12 131.76 L501.12 130.45 L501.56 130.45 L501.56 132.13 L502.01 132.13 L502.01 132.53 L502.46 132.53 L502.46 132.71 L502.90 132.71 L502.90 134.11 L503.35 134.11 L503.35 133.08 L503.80 133.08 L503.80 133.70 L504.24 133.70 L504.24 131.66 L504.69 131.66 L504.69 133.90 L505.13 133.90 L505.13 135.32 L505.58 135.32 L505.58 133.94 L506.03 133.94 L506.03 133.44 L506.47 133.44 L506.47 133.40 L506.92 133.40 L506.92 135.26 L507.37 135.26 L507.37 132.34 L507.81 132.34 L507.81 133.31 L508.26 133.31 L508.26 134.00 L508.70 134.00 L508.70 137.64 L509.15 137.64 L509.15 133.15 L509.60 133.15 L509.60 134.03 L510.04 134.03 L510.04 133.45 L510.49 133.45 L510.49 133.94 L510.94 133.94 L510.94 133.72 L511.38 133.72 L511.38 132.67 L511.83 132.67 L511.83 133.96 L512.28 133.96 L512.28 135.00 L512.72 135.00 L512.72 133.03 L513.17 133.03 L513.17 133.88 L513.61 133.88 L513.61 138.16 L514.06 138.16 L514.06 133.06 L514.51 133.06 L514.51 134.48 L514.95 134.48 L514.95 133.16 L515.40 133.16 L515.40 135.62 L515.85 135.62 L515.85 138.76 L516.29 138.76 L516.29 136.67 L516.74 136.67 L516.74 134.24 L517.19 134.24 L517.19 135.33 L517.63 135.33 L517.63 138.81 L518.08 138.81 L518.08 134.71 L518.52 134.71 L518.52 136.33 L518.97 136.33 L518.97 133.22 L519.42 133.22 L519.42 135.86 L519.86 135.86 L519.86 134.68 L520.31 134.68 L520.31 136.32 L520.76 136.32 L520.76 135.01 L521.20 135.01 L521.20 134.10 L521.65 134.10 L521.65 135.18 L522.10 135.18 L522.10 135.71 L522.54 135.71 L522.54 134.97 L522.99 134.97 L522.99 137.91 L523.43 137.91 L523.43 134.42 L523.88 134.42 L523.88 132.67 L524.33 132.67 L524.33 136.04 L524.77 136.04 L524.77 135.84 L525.22 135.84 L525.22 135.26 L525.67 135.26 L525.67 135.20 L526.11 135.20 L526.11 139.46 L526.56 139.46 L526.56 134.66 L527.00 134.66 L527.00 134.40 L527.45 134.40 L527.45 134.99 L527.90 134.99 L527.90 136.52 L528.34 136.52 L528.34 133.70 L528.79 133.70 L528.79 136.55 L529.24 136.55 L529.24 134.54 L529.68 134.54 L529.68 134.04 L530.13 134.04 L530.13 136.65 L530.58 136.65 L530.58 135.16 L531.02 135.16 L531.02 137.24 L531.47 137.24 L531.47 134.87 L531.91 134.87 L531.91 136.29 L532.36 136.29 L532.36 136.57 L532.81 136.57 L532.81 134.78 L533.25 134.78 L533.25 135.69 L533.70 135.69 L533.70 136.02 L534.15 136.02 L534.15 134.51 L534.59 134.51 L534.59 135.59 L535.04 135.59 L535.04 135.15 L535.48 135.15 L535.48 134.57 L535.93 134.57 L535.93 134.59 L536.38 134.59 L536.38 135.18 L536.82 135.18 L536.82 135.11 L537.27 135.11 L537.27 134.42 L537.72 134.42 L537.72 134.54 L538.16 134.54 L538.16 136.19 L538.61 136.19 L538.61 135.16 L539.06 135.16 L539.06 135.86 L539.50 135.86 L539.50 136.17 L539.95 136.17 L539.95 135.45 L540.39 135.45 L540.39 137.25 L540.84 137.25 L540.84 133.78 L541.29 133.78 L541.29 135.51 L541.73 135.51 L541.73 134.19 L542.18 134.19 L542.18 136.49 L542.63 136.49 L542.63 138.26 L543.07 138.26 L543.07 132.07 L543.52 132.07 L543.52 133.02 L543.97 133.02 L543.97 134.66 L544.41 134.66 L544.41 134.63 L544.86 134.63 L544.86 134.38 L545.30 134.38 L545.30 133.28 L545.75 133.28 L545.75 136.42 L546.20 136.42 L546.20 133.61 L546.64 133.61 L546.64 132.52 L547.09 132.52 L547.09 133.41 L547.54 133.41 L547.54 129.42 L547.98 129.42 L547.98 132.16 L548.43 132.16 L548.43 129.81 L548.88 129.81 L548.88 131.38 L549.32 131.38 L549.32 129.37 L549.77 129.37 L549.77 127.89 L550.21 127.89 L550.21 128.53 L550.66 128.53 L550.66 126.39 L551.11 126.39 L551.11 125.73 L551.55 125.73 L551.55 124.45 L552.00 124.45 L552.00 127.15 L552.45 127.15 L552.45 125.63 L552.89 125.63 L552.89 125.72 L553.34 125.72 L553.34 124.07 L553.78 124.07 L553.78 124.92 L554.23 124.92 L554.23 123.52 L554.68 123.52 L554.68 123.12 L555.12 123.12 L555.12 123.55 L555.57 123.55 L555.57 123.79 L556.02 123.79 L556.02 122.12 L556.46 122.12 L556.46 121.98 L556.91 121.98 L556.91 121.83 L557.36 121.83 L557.36 121.87 L557.80 121.87 L557.80 120.70 L558.25 120.70 L558.25 122.46 L558.69 122.46 L558.69 120.93 L559.14 120.93 L559.14 121.73 L559.59 121.73 L559.59 120.47 L560.03 120.47 L560.03 121.75 L560.48 121.75 L560.48 121.95 L560.93 121.95 L560.93 121.37 L561.37 121.37 L561.37 124.12 L561.82 124.12 L561.82 122.78 L562.26 122.78 L562.26 124.57 L562.71 124.57 L562.71 124.16 L563.16 124.16 L563.16 116.45 L563.60 116.45 L563.60 123.90 L564.05 123.90 L564.05 125.39 L564.50 125.39 L564.50 125.58 L564.94 125.58 L564.94 120.64 L565.39 120.64 L565.39 120.76 L565.84 120.76 L565.84 125.07 L566.28 125.07 L566.28 122.76 L566.73 122.76 L566.73 119.76 L567.17 119.76 L567.17 128.90 L567.62 128.90 L567.62 128.12 L568.07 128.12 L568.07 128.52 L568.51 128.52 L568.51 129.40 L568.96 129.40 L568.96 130.23 L569.41 130.23 L569.41 128.60 L569.85 128.60 L569.85 128.46 L570.30 128.46 L570.30 129.39 L570.75 129.39 L570.75 128.46 L571.19 128.46 L571.19 129.75 L571.64 129.75 L571.64 127.47 L572.08 127.47 L572.08 127.63 L572.53 127.63 L572.53 131.58 L572.98 131.58 L572.98 123.75 L573.42 123.75 L573.42 130.98 L573.87 130.98 L573.87 124.08 L574.32 124.08 L574.32 123.60 L574.76 123.60 L574.76 127.88 L575.21 127.88 L575.21 126.10 L575.65 126.10 L575.65 125.58 L576.10 125.58 L576.10 126.12 L576.55 126.12 L576.55 127.37 L576.99 127.37 L576.99 124.25 L577.44 124.25 L577.44 120.83 L577.89 120.83 L577.89 128.06 L578.33 128.06 L578.33 126.65 L578.78 126.65 L578.78 125.88 L579.23 125.88 L579.23 116.72 L579.67 116.72 L579.67 125.13 L580.12 125.13 L580.12 120.97 L580.56 120.97 L580.56 120.57 L581.01 120.57 L581.01 123.50 L581.46 123.50 L581.46 118.92 L581.90 118.92 L581.90 117.21 L582.35 117.21 L582.35 123.39 L582.80 123.39 L582.80 125.46 L583.24 125.46 L583.24 120.68 L583.69 120.68 L583.69 118.38 L584.14 118.38 L584.14 115.97 L584.58 115.97 L584.58 121.09 L585.03 121.09 L585.03 118.70 L585.47 118.70 L585.47 116.44 L585.92 116.44 L585.92 116.97 L586.37 116.97 L586.37 120.92 L586.81 120.92 L586.81 120.52 L587.26 120.52 L587.26 116.28 L587.71 116.28 L587.71 117.78 L588.15 117.78 L588.15 116.97 L588.60 116.97 L588.60 114.86 L589.04 114.86 L589.04 115.50 L589.49 115.50 L589.49 114.58 L589.94 114.58 L589.94 116.18 L590.38 116.18 L590.38 109.86 L590.83 109.86 L590.83 115.19 L591.28 115.19 L591.28 116.54 L591.72 116.54 L591.72 113.92 L592.17 113.92 L592.17 115.34 L592.62 115.34 L592.62 115.14 L593.06 115.14 L593.06 106.60 L593.51 106.60 L593.51 109.09 L593.95 109.09 L593.95 108.51 L594.40 108.51 L594.40 110.76 L594.85 110.76 L594.85 112.98 L595.29 112.98 L595.29 102.51 L595.74 102.51 L595.74 105.66 L596.19 105.66 L596.19 109.92 L596.63 109.92 L596.63 109.42 L597.08 109.42 L597.08 109.21 L597.53 109.21 L597.53 108.73 L597.97 108.73 L597.97 107.75 L598.42 107.75 L598.42 108.27 L598.86 108.27 L598.86 105.00 L599.31 105.00 L599.31 106.11 L599.76 106.11 L599.76 104.90 L600.20 104.90 L600.20 104.90 L600.65 104.90 L600.65 104.24 L601.10 104.24 L601.10 102.62 L601.54 102.62 L601.54 102.04 L601.99 102.04 L601.99 102.30 L602.43 102.30 L602.43 101.14 L602.88 101.14 L602.88 99.56 L603.33 99.56 L603.33 100.65 L603.77 100.65 L603.77 99.99 L604.22 99.99 L604.22 96.59 L604.67 96.59 L604.67 97.00 L605.11 97.00 L605.11 97.70 L605.56 97.70 L605.56 95.84 L606.01 95.84 L606.01 94.79 L606.45 94.79 L606.45 93.85 L606.90 93.85 L606.90 92.99 L607.34 92.99 L607.34 92.53 L607.79 92.53 L607.79 91.66 L608.24 91.66 L608.24 91.73 L608.68 91.73 L608.68 90.34 L609.13 90.34 L609.13 89.55 L609.58 89.55 L609.58 88.31 L610.02 88.31 L610.02 88.08 L610.47 88.08 L610.47 86.69 L610.92 86.69 L610.92 86.06 L611.36 86.06 L611.36 85.61 L611.81 85.61 L611.81 84.15 L612.25 84.15 L612.25 83.05 L612.70 83.05 L612.70 81.79 L613.15 81.79 L613.15 80.44 L613.59 80.44 L613.59 79.13 L614.04 79.13 L614.04 77.81 L614.49 77.81 L614.49 76.98 L614.93 76.98 L614.93 75.06 L615.38 75.06 L615.38 74.68 L615.82 74.68 L615.82 73.02 L616.27 73.02 L616.27 71.60 L616.72 71.60 L616.72 70.54 L617.16 70.54 L617.16 69.39 L617.61 69.39 L617.61 68.57 L618.06 68.57 L618.06 67.33 L618.50 67.33 L618.50 66.78 L618.95 66.78 L618.95 65.35 L619.40 65.35 L619.40 64.04 L619.84 64.04 L619.84 63.34 L620.29 63.34 L620.29 62.05 L620.73 62.05 L620.73 61.27 L621.18 61.27 L621.18 60.23 L621.63 60.23 L621.63 58.88 L622.07 58.88 L622.07 57.27 L622.52 57.27 L622.52 55.88 L622.97 55.88 L622.97 54.61 L623.41 54.61 L623.41 52.93 L623.86 52.93 L623.86 51.31 L624.31 51.31 L624.31 49.78 L624.75 49.78 L624.75 48.19 L625.20 48.19 L625.20 46.29 L625.64 46.29 L625.64 44.36 L626.09 44.36 L626.09 42.57 L626.54 42.57 L626.54 40.84 L626.98 40.84 L626.98 39.08 L627.43 39.08 L627.43 37.48 L627.88 37.48 L627.88 36.05 L628.32 36.05 L628.32 34.47 L628.77 34.47 L628.77 33.10 L629.21 33.10 L629.21 31.70 L629.66 31.70 L629.66 30.54 L630.11 30.54 L630.11 28.94 L630.55 28.94 L630.55 27.73 L631.00 27.73 L631.00 26.51 L631.45 26.51 L631.45 25.39 L631.89 25.39 L631.89 24.32 L632.34 24.32 L632.34 23.13 L632.79 23.13 L632.79 22.12 L633.23 22.12 L633.23 21.16 L633.68 21.16 L633.68 20.44 L634.12 20.44 L634.12 19.88 L634.57 19.88 L634.57 19.24 L635.02 19.24 L635.02 18.64 L635.46 18.64 L635.46 18.31 L635.91 18.31 L635.91 18.08 L636.36 18.08 L636.36 18.01 L636.80 18.01 L636.80 17.95 L637.25 17.95 L637.25 18.16 L637.70 18.16 L637.70 18.34 L638.14 18.34 L638.14 18.86 L638.59 18.86 L638.59 19.70 L639.03 19.70 L639.03 20.09 L639.48 20.09 L639.48 21.11 L639.93 21.11 L639.93 22.14 L640.37 22.14 L640.37 23.22 L640.82 23.22 L640.82 24.49 L641.27 24.49 L641.27 26.06 L641.71 26.06 L641.71 27.81 L642.16 27.81 L642.16 29.79 L642.61 29.79 L642.61 31.83 L643.05 31.83 L643.05 34.37 L643.50 34.37 L643.50 36.84 L643.94 36.84 L643.94 39.47 L644.39 39.47 L644.39 42.16 L644.84 42.16 L644.84 44.97 L645.28 44.97 L645.28 48.13 L645.73 48.13 L645.73 51.69 L646.18 51.69 L646.18 56.44 L646.62 56.44 L646.62 62.12 L647.07 62.12 L647.07 67.64 L647.51 67.64 L647.51 72.75 L647.96 72.75 L647.96 77.06 L648.41 77.06 L648.41 81.77 L648.85 81.77 L648.85 86.99 L649.30 86.99 L649.30 152.5 Z" fill="#2ca02c" fill-opacity="0.5" stroke="none"/></g>
<path d="M381.50 150.50v3.5 M390.43 150.50v2.0 M399.35 150.50v2.0 M408.28 150.50v2.0 M417.21 150.50v2.0 M426.13 150.50v3.5 M435.06 150.50v2.0 M443.99 150.50v2.0 M452.91 150.50v2.0 M461.84 150.50v2.0 M470.77 150.50v3.5 M479.69 150.50v2.0 M488.62 150.50v2.0 M497.55 150.50v2.0 M506.47 150.50v2.0 M515.40 150.50v3.5 M524.33 150.50v2.0 M533.25 150.50v2.0 M542.18 150.50v2.0 M551.11 150.50v2.0 M560.03 150.50v3.5 M568.96 150.50v2.0 M577.89 150.50v2.0 M586.81 150.50v2.0 M595.74 150.50v2.0 M604.67 150.50v3.5 M613.59 150.50v2.0 M622.52 150.50v2.0 M631.45 150.50v2.0 M640.37 150.50v2.0 M649.30 150.50v3.5 M381.50 149.37h-2.0 M381.50 145.96h-2.0 M381.50 143.08h-2.0 M381.50 140.58h-2.0 M381.50 138.37h-2.0 M381.50 136.40h-3.5 M381.50 123.43h-2.0 M381.50 115.84h-2.0 M381.50 110.45h-2.0 M381.50 106.27h-2.0 M381.50 102.86h-2.0 M381.50 99.98h-2.0 M381.50 97.48h-2.0 M381.50 95.27h-2.0 M381.50 93.30h-3.5 M381.50 80.33h-2.0 M381.50 72.74h-2.0 M381.50 67.35h-2.0 M381.50 63.17h-2.0 M381.50 59.76h-2.0 M381.50 56.88h-2.0 M381.50 54.38h-2.0 M381.50 52.17h-2.0 M381.50 50.20h-3.5 M381.50 37.23h-2.0 M381.50 29.64h-2.0 M381.50 24.25h-2.0 M381.50 20.07h-2.0 M381.50 16.66h-2.0 M381.50 13.78h-2.0 M381.50 11.28h-2.0 M381.50 9.07h-2.0" stroke="#3a3a3a" stroke-width="0.8" fill="none"/>
<text x="356.2" y="141.20" font-family='"Liberation Sans", sans-serif' font-size="13.1" textLength="15.0" lengthAdjust="spacingAndGlyphs" fill="#111">10</text>
<text x="372.2" y="136.30" font-family='"Liberation Sans", sans-serif' font-size="9.2" fill="#111">2</text>
<text x="356.2" y="98.10" font-family='"Liberation Sans", sans-serif' font-size="13.1" textLength="15.0" lengthAdjust="spacingAndGlyphs" fill="#111">10</text>
<text x="372.2" y="93.20" font-family='"Liberation Sans", sans-serif' font-size="9.2" fill="#111">3</text>
<text x="356.2" y="55.00" font-family='"Liberation Sans", sans-serif' font-size="13.1" textLength="15.0" lengthAdjust="spacingAndGlyphs" fill="#111">10</text>
<text x="372.2" y="50.10" font-family='"Liberation Sans", sans-serif' font-size="9.2" fill="#111">4</text>
<text x="356.2" y="11.90" font-family='"Liberation Sans", sans-serif' font-size="13.1" textLength="15.0" lengthAdjust="spacingAndGlyphs" fill="#111">10</text>
<text x="372.2" y="7.00" font-family='"Liberation Sans", sans-serif' font-size="9.2" fill="#111">5</text>
<text transform="translate(350.5 79.3) rotate(-90)" font-family='"Liberation Sans", sans-serif' font-size="12.6" text-anchor="middle" textLength="41.5" lengthAdjust="spacingAndGlyphs" fill="#111">Counts</text>
<rect x="388" y="13.3" width="125.3" height="38" rx="2" ry="2" fill="#fff" fill-opacity="0.85" stroke="#d6d6d6" stroke-width="1"/>
<rect x="392.6" y="19" width="23.6" height="8" fill="none" stroke="#1f77b4" stroke-width="1.6"/>
<rect x="392" y="36" width="24.7" height="8.4" fill="#96cf96"/>
<text x="426.8" y="27.6" font-family='"Liberation Sans", sans-serif' font-size="11.9" textLength="80.6" lengthAdjust="spacingAndGlyphs" fill="#111">Measurement</text>
<text x="426.8" y="44.6" font-family='"Liberation Sans", sans-serif' font-size="11.9" textLength="63.2" lengthAdjust="spacingAndGlyphs" fill="#111">Simulation</text>
<path d="M381.5 150.5 V7.5 H649.3 V150.5" fill="none" stroke="#555" stroke-width="1.2"/>
<line x1="381.5" y1="171.52" x2="649.3" y2="171.52" stroke="#c8c8c8" stroke-width="0.9"/>
<line x1="381.5" y1="190.90" x2="649.3" y2="190.90" stroke="#c8c8c8" stroke-width="0.9"/>
<line x1="381.5" y1="210.28" x2="649.3" y2="210.28" stroke="#c8c8c8" stroke-width="0.9"/>
<g clip-path="url(#cb)"><path d="M380.72 191.80a1.0 1.0 0 1 0 2.0 0a1.0 1.0 0 1 0 -2.0 0M381.17 192.73a1.0 1.0 0 1 0 2.0 0a1.0 1.0 0 1 0 -2.0 0M381.62 191.11a1.0 1.0 0 1 0 2.0 0a1.0 1.0 0 1 0 -2.0 0M382.06 190.74a1.0 1.0 0 1 0 2.0 0a1.0 1.0 0 1 0 -2.0 0M382.51 191.10a1.0 1.0 0 1 0 2.0 0a1.0 1.0 0 1 0 -2.0 0M382.95 191.24a1.0 1.0 0 1 0 2.0 0a1.0 1.0 0 1 0 -2.0 0M383.40 191.47a1.0 1.0 0 1 0 2.0 0a1.0 1.0 0 1 0 -2.0 0M383.85 190.24a1.0 1.0 0 1 0 2.0 0a1.0 1.0 0 1 0 -2.0 0M384.29 190.90a1.0 1.0 0 1 0 2.0 0a1.0 1.0 0 1 0 -2.0 0M384.74 190.75a1.0 1.0 0 1 0 2.0 0a1.0 1.0 0 1 0 -2.0 0M385.19 191.70a1.0 1.0 0 1 0 2.0 0a1.0 1.0 0 1 0 -2.0 0M385.63 191.39a1.0 1.0 0 1 0 2.0 0a1.0 1.0 0 1 0 -2.0 0M386.08 190.70a1.0 1.0 0 1 0 2.0 0a1.0 1.0 0 1 0 -2.0 0M386.53 191.71a1.0 1.0 0 1 0 2.0 0a1.0 1.0 0 1 0 -2.0 0M386.97 191.93a1.0 1.0 0 1 0 2.0 0a1.0 1.0 0 1 0 -2.0 0M387.42 191.11a1.0 1.0 0 1 0 2.0 0a1.0 1.0 0 1 0 -2.0 0M387.86 189.78a1.0 1.0 0 1 0 2.0 0a1.0 1.0 0 1 0 -2.0 0M388.31 190.65a1.0 1.0 0 1 0 2.0 0a1.0 1.0 0 1 0 -2.0 0M388.76 189.54a1.0 1.0 0 1 0 2.0 0a1.0 1.0 0 1 0 -2.0 0M389.20 190.92a1.0 1.0 0 1 0 2.0 0a1.0 1.0 0 1 0 -2.0 0M389.65 191.08a1.0 1.0 0 1 0 2.0 0a1.0 1.0 0 1 0 -2.0 0M390.10 192.02a1.0 1.0 0 1 0 2.0 0a1.0 1.0 0 1 0 -2.0 0M390.54 191.30a1.0 1.0 0 1 0 2.0 0a1.0 1.0 0 1 0 -2.0 0M390.99 189.54a1.0 1.0 0 1 0 2.0 0a1.0 1.0 0 1 0 -2.0 0M391.44 190.50a1.0 1.0 0 1 0 2.0 0a1.0 1.0 0 1 0 -2.0 0M391.88 190.14a1.0 1.0 0 1 0 2.0 0a1.0 1.0 0 1 0 -2.0 0M392.33 190.16a1.0 1.0 0 1 0 2.0 0a1.0 1.0 0 1 0 -2.0 0M392.77 190.78a1.0 1.0 0 1 0 2.0 0a1.0 1.0 0 1 0 -2.0 0M393.22 190.95a1.0 1.0 0 1 0 2.0 0a1.0 1.0 0 1 0 -2.0 0M393.67 190.66a1.0 1.0 0 1 0 2.0 0a1.0 1.0 0 1 0 -2.0 0M394.11 190.18a1.0 1.0 0 1 0 2.0 0a1.0 1.0 0 1 0 -2.0 0M394.56 190.36a1.0 1.0 0 1 0 2.0 0a1.0 1.0 0 1 0 -2.0 0M395.01 190.32a1.0 1.0 0 1 0 2.0 0a1.0 1.0 0 1 0 -2.0 0M395.45 190.61a1.0 1.0 0 1 0 2.0 0a1.0 1.0 0 1 0 -2.0 0M395.90 191.42a1.0 1.0 0 1 0 2.0 0a1.0 1.0 0 1 0 -2.0 0M396.34 190.97a1.0 1.0 0 1 0 2.0 0a1.0 1.0 0 1 0 -2.0 0M396.79 191.56a1.0 1.0 0 1 0 2.0 0a1.0 1.0 0 1 0 -2.0 0M397.24 189.86a1.0 1.0 0 1 0 2.0 0a1.0 1.0 0 1 0 -2.0 0M397.68 192.56a1.0 1.0 0 1 0 2.0 0a1.0 1.0 0 1 0 -2.0 0M398.13 190.91a1.0 1.0 0 1 0 2.0 0a1.0 1.0 0 1 0 -2.0 0M398.58 188.64a1.0 1.0 0 1 0 2.0 0a1.0 1.0 0 1 0 -2.0 0M399.02 191.01a1.0 1.0 0 1 0 2.0 0a1.0 1.0 0 1 0 -2.0 0M399.47 191.70a1.0 1.0 0 1 0 2.0 0a1.0 1.0 0 1 0 -2.0 0M399.92 190.72a1.0 1.0 0 1 0 2.0 0a1.0 1.0 0 1 0 -2.0 0M400.36 189.58a1.0 1.0 0 1 0 2.0 0a1.0 1.0 0 1 0 -2.0 0M400.81 190.84a1.0 1.0 0 1 0 2.0 0a1.0 1.0 0 1 0 -2.0 0M401.25 190.16a1.0 1.0 0 1 0 2.0 0a1.0 1.0 0 1 0 -2.0 0M401.70 190.60a1.0 1.0 0 1 0 2.0 0a1.0 1.0 0 1 0 -2.0 0M402.15 191.01a1.0 1.0 0 1 0 2.0 0a1.0 1.0 0 1 0 -2.0 0M402.59 187.93a1.0 1.0 0 1 0 2.0 0a1.0 1.0 0 1 0 -2.0 0M403.04 190.61a1.0 1.0 0 1 0 2.0 0a1.0 1.0 0 1 0 -2.0 0M403.49 191.14a1.0 1.0 0 1 0 2.0 0a1.0 1.0 0 1 0 -2.0 0M403.93 191.09a1.0 1.0 0 1 0 2.0 0a1.0 1.0 0 1 0 -2.0 0M404.38 190.33a1.0 1.0 0 1 0 2.0 0a1.0 1.0 0 1 0 -2.0 0M404.83 190.30a1.0 1.0 0 1 0 2.0 0a1.0 1.0 0 1 0 -2.0 0M405.27 189.98a1.0 1.0 0 1 0 2.0 0a1.0 1.0 0 1 0 -2.0 0M405.72 190.53a1.0 1.0 0 1 0 2.0 0a1.0 1.0 0 1 0 -2.0 0M406.16 191.89a1.0 1.0 0 1 0 2.0 0a1.0 1.0 0 1 0 -2.0 0M406.61 190.18a1.0 1.0 0 1 0 2.0 0a1.0 1.0 0 1 0 -2.0 0M407.06 190.90a1.0 1.0 0 1 0 2.0 0a1.0 1.0 0 1 0 -2.0 0M407.50 190.88a1.0 1.0 0 1 0 2.0 0a1.0 1.0 0 1 0 -2.0 0M407.95 191.92a1.0 1.0 0 1 0 2.0 0a1.0 1.0 0 1 0 -2.0 0M408.40 191.12a1.0 1.0 0 1 0 2.0 0a1.0 1.0 0 1 0 -2.0 0M408.84 191.25a1.0 1.0 0 1 0 2.0 0a1.0 1.0 0 1 0 -2.0 0M409.29 190.65a1.0 1.0 0 1 0 2.0 0a1.0 1.0 0 1 0 -2.0 0M409.73 191.88a1.0 1.0 0 1 0 2.0 0a1.0 1.0 0 1 0 -2.0 0M410.18 190.56a1.0 1.0 0 1 0 2.0 0a1.0 1.0 0 1 0 -2.0 0M410.63 190.49a1.0 1.0 0 1 0 2.0 0a1.0 1.0 0 1 0 -2.0 0M411.07 191.57a1.0 1.0 0 1 0 2.0 0a1.0 1.0 0 1 0 -2.0 0M411.52 191.14a1.0 1.0 0 1 0 2.0 0a1.0 1.0 0 1 0 -2.0 0M411.97 191.33a1.0 1.0 0 1 0 2.0 0a1.0 1.0 0 1 0 -2.0 0M412.41 189.79a1.0 1.0 0 1 0 2.0 0a1.0 1.0 0 1 0 -2.0 0M412.86 192.78a1.0 1.0 0 1 0 2.0 0a1.0 1.0 0 1 0 -2.0 0M413.31 190.87a1.0 1.0 0 1 0 2.0 0a1.0 1.0 0 1 0 -2.0 0M413.75 192.02a1.0 1.0 0 1 0 2.0 0a1.0 1.0 0 1 0 -2.0 0M414.20 190.94a1.0 1.0 0 1 0 2.0 0a1.0 1.0 0 1 0 -2.0 0M414.64 189.82a1.0 1.0 0 1 0 2.0 0a1.0 1.0 0 1 0 -2.0 0M415.09 191.11a1.0 1.0 0 1 0 2.0 0a1.0 1.0 0 1 0 -2.0 0M415.54 190.43a1.0 1.0 0 1 0 2.0 0a1.0 1.0 0 1 0 -2.0 0M415.98 191.28a1.0 1.0 0 1 0 2.0 0a1.0 1.0 0 1 0 -2.0 0M416.43 188.85a1.0 1.0 0 1 0 2.0 0a1.0 1.0 0 1 0 -2.0 0M416.88 189.74a1.0 1.0 0 1 0 2.0 0a1.0 1.0 0 1 0 -2.0 0M417.32 189.55a1.0 1.0 0 1 0 2.0 0a1.0 1.0 0 1 0 -2.0 0M417.77 191.69a1.0 1.0 0 1 0 2.0 0a1.0 1.0 0 1 0 -2.0 0M418.22 191.49a1.0 1.0 0 1 0 2.0 0a1.0 1.0 0 1 0 -2.0 0M418.66 189.58a1.0 1.0 0 1 0 2.0 0a1.0 1.0 0 1 0 -2.0 0M419.11 190.69a1.0 1.0 0 1 0 2.0 0a1.0 1.0 0 1 0 -2.0 0M419.55 190.74a1.0 1.0 0 1 0 2.0 0a1.0 1.0 0 1 0 -2.0 0M420.00 190.22a1.0 1.0 0 1 0 2.0 0a1.0 1.0 0 1 0 -2.0 0M420.45 191.60a1.0 1.0 0 1 0 2.0 0a1.0 1.0 0 1 0 -2.0 0M420.89 189.83a1.0 1.0 0 1 0 2.0 0a1.0 1.0 0 1 0 -2.0 0M421.34 190.48a1.0 1.0 0 1 0 2.0 0a1.0 1.0 0 1 0 -2.0 0M421.79 190.07a1.0 1.0 0 1 0 2.0 0a1.0 1.0 0 1 0 -2.0 0M422.23 191.07a1.0 1.0 0 1 0 2.0 0a1.0 1.0 0 1 0 -2.0 0M422.68 190.03a1.0 1.0 0 1 0 2.0 0a1.0 1.0 0 1 0 -2.0 0M423.12 191.09a1.0 1.0 0 1 0 2.0 0a1.0 1.0 0 1 0 -2.0 0M423.57 189.64a1.0 1.0 0 1 0 2.0 0a1.0 1.0 0 1 0 -2.0 0M424.02 189.48a1.0 1.0 0 1 0 2.0 0a1.0 1.0 0 1 0 -2.0 0M424.46 189.67a1.0 1.0 0 1 0 2.0 0a1.0 1.0 0 1 0 -2.0 0M424.91 190.01a1.0 1.0 0 1 0 2.0 0a1.0 1.0 0 1 0 -2.0 0M425.36 189.90a1.0 1.0 0 1 0 2.0 0a1.0 1.0 0 1 0 -2.0 0M425.80 192.81a1.0 1.0 0 1 0 2.0 0a1.0 1.0 0 1 0 -2.0 0M426.25 189.72a1.0 1.0 0 1 0 2.0 0a1.0 1.0 0 1 0 -2.0 0M426.70 190.68a1.0 1.0 0 1 0 2.0 0a1.0 1.0 0 1 0 -2.0 0M427.14 190.36a1.0 1.0 0 1 0 2.0 0a1.0 1.0 0 1 0 -2.0 0M427.59 190.68a1.0 1.0 0 1 0 2.0 0a1.0 1.0 0 1 0 -2.0 0M428.03 191.64a1.0 1.0 0 1 0 2.0 0a1.0 1.0 0 1 0 -2.0 0M428.48 190.90a1.0 1.0 0 1 0 2.0 0a1.0 1.0 0 1 0 -2.0 0M428.93 189.85a1.0 1.0 0 1 0 2.0 0a1.0 1.0 0 1 0 -2.0 0M429.37 189.18a1.0 1.0 0 1 0 2.0 0a1.0 1.0 0 1 0 -2.0 0M429.82 190.96a1.0 1.0 0 1 0 2.0 0a1.0 1.0 0 1 0 -2.0 0M430.27 191.20a1.0 1.0 0 1 0 2.0 0a1.0 1.0 0 1 0 -2.0 0M430.71 189.14a1.0 1.0 0 1 0 2.0 0a1.0 1.0 0 1 0 -2.0 0M431.16 191.17a1.0 1.0 0 1 0 2.0 0a1.0 1.0 0 1 0 -2.0 0M431.61 188.59a1.0 1.0 0 1 0 2.0 0a1.0 1.0 0 1 0 -2.0 0M432.05 190.35a1.0 1.0 0 1 0 2.0 0a1.0 1.0 0 1 0 -2.0 0M432.50 191.16a1.0 1.0 0 1 0 2.0 0a1.0 1.0 0 1 0 -2.0 0M432.94 189.52a1.0 1.0 0 1 0 2.0 0a1.0 1.0 0 1 0 -2.0 0M433.39 188.90a1.0 1.0 0 1 0 2.0 0a1.0 1.0 0 1 0 -2.0 0M433.84 191.62a1.0 1.0 0 1 0 2.0 0a1.0 1.0 0 1 0 -2.0 0M434.28 189.01a1.0 1.0 0 1 0 2.0 0a1.0 1.0 0 1 0 -2.0 0M434.73 190.61a1.0 1.0 0 1 0 2.0 0a1.0 1.0 0 1 0 -2.0 0M435.18 189.06a1.0 1.0 0 1 0 2.0 0a1.0 1.0 0 1 0 -2.0 0M435.62 190.69a1.0 1.0 0 1 0 2.0 0a1.0 1.0 0 1 0 -2.0 0M436.07 191.73a1.0 1.0 0 1 0 2.0 0a1.0 1.0 0 1 0 -2.0 0M436.51 189.91a1.0 1.0 0 1 0 2.0 0a1.0 1.0 0 1 0 -2.0 0M436.96 189.53a1.0 1.0 0 1 0 2.0 0a1.0 1.0 0 1 0 -2.0 0M437.41 188.51a1.0 1.0 0 1 0 2.0 0a1.0 1.0 0 1 0 -2.0 0M437.85 188.83a1.0 1.0 0 1 0 2.0 0a1.0 1.0 0 1 0 -2.0 0M438.30 189.72a1.0 1.0 0 1 0 2.0 0a1.0 1.0 0 1 0 -2.0 0M438.75 190.53a1.0 1.0 0 1 0 2.0 0a1.0 1.0 0 1 0 -2.0 0M439.19 190.77a1.0 1.0 0 1 0 2.0 0a1.0 1.0 0 1 0 -2.0 0M439.64 190.57a1.0 1.0 0 1 0 2.0 0a1.0 1.0 0 1 0 -2.0 0M440.09 191.04a1.0 1.0 0 1 0 2.0 0a1.0 1.0 0 1 0 -2.0 0M440.53 190.55a1.0 1.0 0 1 0 2.0 0a1.0 1.0 0 1 0 -2.0 0M440.98 192.52a1.0 1.0 0 1 0 2.0 0a1.0 1.0 0 1 0 -2.0 0M441.42 190.14a1.0 1.0 0 1 0 2.0 0a1.0 1.0 0 1 0 -2.0 0M441.87 190.32a1.0 1.0 0 1 0 2.0 0a1.0 1.0 0 1 0 -2.0 0M442.32 188.05a1.0 1.0 0 1 0 2.0 0a1.0 1.0 0 1 0 -2.0 0M442.76 189.62a1.0 1.0 0 1 0 2.0 0a1.0 1.0 0 1 0 -2.0 0M443.21 190.70a1.0 1.0 0 1 0 2.0 0a1.0 1.0 0 1 0 -2.0 0M443.66 189.78a1.0 1.0 0 1 0 2.0 0a1.0 1.0 0 1 0 -2.0 0M444.10 191.34a1.0 1.0 0 1 0 2.0 0a1.0 1.0 0 1 0 -2.0 0M444.55 190.79a1.0 1.0 0 1 0 2.0 0a1.0 1.0 0 1 0 -2.0 0M445.00 191.89a1.0 1.0 0 1 0 2.0 0a1.0 1.0 0 1 0 -2.0 0M445.44 189.01a1.0 1.0 0 1 0 2.0 0a1.0 1.0 0 1 0 -2.0 0M445.89 189.74a1.0 1.0 0 1 0 2.0 0a1.0 1.0 0 1 0 -2.0 0M446.33 191.28a1.0 1.0 0 1 0 2.0 0a1.0 1.0 0 1 0 -2.0 0M446.78 190.30a1.0 1.0 0 1 0 2.0 0a1.0 1.0 0 1 0 -2.0 0M447.23 189.41a1.0 1.0 0 1 0 2.0 0a1.0 1.0 0 1 0 -2.0 0M447.67 189.81a1.0 1.0 0 1 0 2.0 0a1.0 1.0 0 1 0 -2.0 0M448.12 189.90a1.0 1.0 0 1 0 2.0 0a1.0 1.0 0 1 0 -2.0 0M448.57 190.98a1.0 1.0 0 1 0 2.0 0a1.0 1.0 0 1 0 -2.0 0M449.01 190.78a1.0 1.0 0 1 0 2.0 0a1.0 1.0 0 1 0 -2.0 0M449.46 190.14a1.0 1.0 0 1 0 2.0 0a1.0 1.0 0 1 0 -2.0 0M449.90 189.41a1.0 1.0 0 1 0 2.0 0a1.0 1.0 0 1 0 -2.0 0M450.35 190.93a1.0 1.0 0 1 0 2.0 0a1.0 1.0 0 1 0 -2.0 0M450.80 191.19a1.0 1.0 0 1 0 2.0 0a1.0 1.0 0 1 0 -2.0 0M451.24 189.20a1.0 1.0 0 1 0 2.0 0a1.0 1.0 0 1 0 -2.0 0M451.69 191.01a1.0 1.0 0 1 0 2.0 0a1.0 1.0 0 1 0 -2.0 0M452.14 189.25a1.0 1.0 0 1 0 2.0 0a1.0 1.0 0 1 0 -2.0 0M452.58 189.98a1.0 1.0 0 1 0 2.0 0a1.0 1.0 0 1 0 -2.0 0M453.03 189.42a1.0 1.0 0 1 0 2.0 0a1.0 1.0 0 1 0 -2.0 0M453.48 188.66a1.0 1.0 0 1 0 2.0 0a1.0 1.0 0 1 0 -2.0 0M453.92 189.58a1.0 1.0 0 1 0 2.0 0a1.0 1.0 0 1 0 -2.0 0M454.37 189.50a1.0 1.0 0 1 0 2.0 0a1.0 1.0 0 1 0 -2.0 0M454.81 190.97a1.0 1.0 0 1 0 2.0 0a1.0 1.0 0 1 0 -2.0 0M455.26 190.77a1.0 1.0 0 1 0 2.0 0a1.0 1.0 0 1 0 -2.0 0M455.71 189.60a1.0 1.0 0 1 0 2.0 0a1.0 1.0 0 1 0 -2.0 0M456.15 188.82a1.0 1.0 0 1 0 2.0 0a1.0 1.0 0 1 0 -2.0 0M456.60 188.94a1.0 1.0 0 1 0 2.0 0a1.0 1.0 0 1 0 -2.0 0M457.05 188.13a1.0 1.0 0 1 0 2.0 0a1.0 1.0 0 1 0 -2.0 0M457.49 189.87a1.0 1.0 0 1 0 2.0 0a1.0 1.0 0 1 0 -2.0 0M457.94 189.96a1.0 1.0 0 1 0 2.0 0a1.0 1.0 0 1 0 -2.0 0M458.39 189.26a1.0 1.0 0 1 0 2.0 0a1.0 1.0 0 1 0 -2.0 0M458.83 190.11a1.0 1.0 0 1 0 2.0 0a1.0 1.0 0 1 0 -2.0 0M459.28 190.18a1.0 1.0 0 1 0 2.0 0a1.0 1.0 0 1 0 -2.0 0M459.72 191.03a1.0 1.0 0 1 0 2.0 0a1.0 1.0 0 1 0 -2.0 0M460.17 189.25a1.0 1.0 0 1 0 2.0 0a1.0 1.0 0 1 0 -2.0 0M460.62 191.05a1.0 1.0 0 1 0 2.0 0a1.0 1.0 0 1 0 -2.0 0M461.06 189.66a1.0 1.0 0 1 0 2.0 0a1.0 1.0 0 1 0 -2.0 0M461.51 191.34a1.0 1.0 0 1 0 2.0 0a1.0 1.0 0 1 0 -2.0 0M461.96 189.14a1.0 1.0 0 1 0 2.0 0a1.0 1.0 0 1 0 -2.0 0M462.40 190.99a1.0 1.0 0 1 0 2.0 0a1.0 1.0 0 1 0 -2.0 0M462.85 189.35a1.0 1.0 0 1 0 2.0 0a1.0 1.0 0 1 0 -2.0 0M463.29 191.47a1.0 1.0 0 1 0 2.0 0a1.0 1.0 0 1 0 -2.0 0M463.74 190.46a1.0 1.0 0 1 0 2.0 0a1.0 1.0 0 1 0 -2.0 0M464.19 189.05a1.0 1.0 0 1 0 2.0 0a1.0 1.0 0 1 0 -2.0 0M464.63 190.77a1.0 1.0 0 1 0 2.0 0a1.0 1.0 0 1 0 -2.0 0M465.08 190.01a1.0 1.0 0 1 0 2.0 0a1.0 1.0 0 1 0 -2.0 0M465.53 190.48a1.0 1.0 0 1 0 2.0 0a1.0 1.0 0 1 0 -2.0 0M465.97 192.07a1.0 1.0 0 1 0 2.0 0a1.0 1.0 0 1 0 -2.0 0M466.42 189.79a1.0 1.0 0 1 0 2.0 0a1.0 1.0 0 1 0 -2.0 0M466.87 189.67a1.0 1.0 0 1 0 2.0 0a1.0 1.0 0 1 0 -2.0 0M467.31 191.01a1.0 1.0 0 1 0 2.0 0a1.0 1.0 0 1 0 -2.0 0M467.76 189.54a1.0 1.0 0 1 0 2.0 0a1.0 1.0 0 1 0 -2.0 0M468.20 190.73a1.0 1.0 0 1 0 2.0 0a1.0 1.0 0 1 0 -2.0 0M468.65 190.91a1.0 1.0 0 1 0 2.0 0a1.0 1.0 0 1 0 -2.0 0M469.10 190.02a1.0 1.0 0 1 0 2.0 0a1.0 1.0 0 1 0 -2.0 0M469.54 190.62a1.0 1.0 0 1 0 2.0 0a1.0 1.0 0 1 0 -2.0 0M469.99 188.02a1.0 1.0 0 1 0 2.0 0a1.0 1.0 0 1 0 -2.0 0M470.44 191.37a1.0 1.0 0 1 0 2.0 0a1.0 1.0 0 1 0 -2.0 0M470.88 189.37a1.0 1.0 0 1 0 2.0 0a1.0 1.0 0 1 0 -2.0 0M471.33 189.14a1.0 1.0 0 1 0 2.0 0a1.0 1.0 0 1 0 -2.0 0M471.78 191.73a1.0 1.0 0 1 0 2.0 0a1.0 1.0 0 1 0 -2.0 0M472.22 191.51a1.0 1.0 0 1 0 2.0 0a1.0 1.0 0 1 0 -2.0 0M472.67 189.50a1.0 1.0 0 1 0 2.0 0a1.0 1.0 0 1 0 -2.0 0M473.11 190.41a1.0 1.0 0 1 0 2.0 0a1.0 1.0 0 1 0 -2.0 0M473.56 189.65a1.0 1.0 0 1 0 2.0 0a1.0 1.0 0 1 0 -2.0 0M474.01 188.99a1.0 1.0 0 1 0 2.0 0a1.0 1.0 0 1 0 -2.0 0M474.45 190.30a1.0 1.0 0 1 0 2.0 0a1.0 1.0 0 1 0 -2.0 0M474.90 190.90a1.0 1.0 0 1 0 2.0 0a1.0 1.0 0 1 0 -2.0 0M475.35 192.35a1.0 1.0 0 1 0 2.0 0a1.0 1.0 0 1 0 -2.0 0M475.79 189.78a1.0 1.0 0 1 0 2.0 0a1.0 1.0 0 1 0 -2.0 0M476.24 190.77a1.0 1.0 0 1 0 2.0 0a1.0 1.0 0 1 0 -2.0 0M476.68 189.68a1.0 1.0 0 1 0 2.0 0a1.0 1.0 0 1 0 -2.0 0M477.13 189.75a1.0 1.0 0 1 0 2.0 0a1.0 1.0 0 1 0 -2.0 0M477.58 191.15a1.0 1.0 0 1 0 2.0 0a1.0 1.0 0 1 0 -2.0 0M478.02 188.44a1.0 1.0 0 1 0 2.0 0a1.0 1.0 0 1 0 -2.0 0M478.47 188.99a1.0 1.0 0 1 0 2.0 0a1.0 1.0 0 1 0 -2.0 0M478.92 189.19a1.0 1.0 0 1 0 2.0 0a1.0 1.0 0 1 0 -2.0 0M479.36 190.96a1.0 1.0 0 1 0 2.0 0a1.0 1.0 0 1 0 -2.0 0M479.81 190.27a1.0 1.0 0 1 0 2.0 0a1.0 1.0 0 1 0 -2.0 0M480.26 190.39a1.0 1.0 0 1 0 2.0 0a1.0 1.0 0 1 0 -2.0 0M480.70 190.27a1.0 1.0 0 1 0 2.0 0a1.0 1.0 0 1 0 -2.0 0M481.15 190.88a1.0 1.0 0 1 0 2.0 0a1.0 1.0 0 1 0 -2.0 0M481.59 189.51a1.0 1.0 0 1 0 2.0 0a1.0 1.0 0 1 0 -2.0 0M482.04 189.68a1.0 1.0 0 1 0 2.0 0a1.0 1.0 0 1 0 -2.0 0M482.49 189.56a1.0 1.0 0 1 0 2.0 0a1.0 1.0 0 1 0 -2.0 0M482.93 190.31a1.0 1.0 0 1 0 2.0 0a1.0 1.0 0 1 0 -2.0 0M483.38 188.74a1.0 1.0 0 1 0 2.0 0a1.0 1.0 0 1 0 -2.0 0M483.83 189.69a1.0 1.0 0 1 0 2.0 0a1.0 1.0 0 1 0 -2.0 0M484.27 192.23a1.0 1.0 0 1 0 2.0 0a1.0 1.0 0 1 0 -2.0 0M484.72 190.40a1.0 1.0 0 1 0 2.0 0a1.0 1.0 0 1 0 -2.0 0M485.17 189.88a1.0 1.0 0 1 0 2.0 0a1.0 1.0 0 1 0 -2.0 0M485.61 188.98a1.0 1.0 0 1 0 2.0 0a1.0 1.0 0 1 0 -2.0 0M486.06 190.08a1.0 1.0 0 1 0 2.0 0a1.0 1.0 0 1 0 -2.0 0M486.50 190.03a1.0 1.0 0 1 0 2.0 0a1.0 1.0 0 1 0 -2.0 0M486.95 190.38a1.0 1.0 0 1 0 2.0 0a1.0 1.0 0 1 0 -2.0 0M487.40 189.22a1.0 1.0 0 1 0 2.0 0a1.0 1.0 0 1 0 -2.0 0M487.84 190.18a1.0 1.0 0 1 0 2.0 0a1.0 1.0 0 1 0 -2.0 0M488.29 190.31a1.0 1.0 0 1 0 2.0 0a1.0 1.0 0 1 0 -2.0 0M488.74 190.42a1.0 1.0 0 1 0 2.0 0a1.0 1.0 0 1 0 -2.0 0M489.18 189.28a1.0 1.0 0 1 0 2.0 0a1.0 1.0 0 1 0 -2.0 0M489.63 190.23a1.0 1.0 0 1 0 2.0 0a1.0 1.0 0 1 0 -2.0 0M490.07 191.22a1.0 1.0 0 1 0 2.0 0a1.0 1.0 0 1 0 -2.0 0M490.52 189.20a1.0 1.0 0 1 0 2.0 0a1.0 1.0 0 1 0 -2.0 0M490.97 190.35a1.0 1.0 0 1 0 2.0 0a1.0 1.0 0 1 0 -2.0 0M491.41 189.42a1.0 1.0 0 1 0 2.0 0a1.0 1.0 0 1 0 -2.0 0M491.86 189.40a1.0 1.0 0 1 0 2.0 0a1.0 1.0 0 1 0 -2.0 0M492.31 188.67a1.0 1.0 0 1 0 2.0 0a1.0 1.0 0 1 0 -2.0 0M492.75 188.80a1.0 1.0 0 1 0 2.0 0a1.0 1.0 0 1 0 -2.0 0M493.20 190.21a1.0 1.0 0 1 0 2.0 0a1.0 1.0 0 1 0 -2.0 0M493.65 189.84a1.0 1.0 0 1 0 2.0 0a1.0 1.0 0 1 0 -2.0 0M494.09 190.82a1.0 1.0 0 1 0 2.0 0a1.0 1.0 0 1 0 -2.0 0M494.54 188.22a1.0 1.0 0 1 0 2.0 0a1.0 1.0 0 1 0 -2.0 0M494.98 189.29a1.0 1.0 0 1 0 2.0 0a1.0 1.0 0 1 0 -2.0 0M495.43 188.45a1.0 1.0 0 1 0 2.0 0a1.0 1.0 0 1 0 -2.0 0M495.88 189.94a1.0 1.0 0 1 0 2.0 0a1.0 1.0 0 1 0 -2.0 0M496.32 191.44a1.0 1.0 0 1 0 2.0 0a1.0 1.0 0 1 0 -2.0 0M496.77 188.31a1.0 1.0 0 1 0 2.0 0a1.0 1.0 0 1 0 -2.0 0M497.22 189.56a1.0 1.0 0 1 0 2.0 0a1.0 1.0 0 1 0 -2.0 0M497.66 189.52a1.0 1.0 0 1 0 2.0 0a1.0 1.0 0 1 0 -2.0 0M498.11 189.58a1.0 1.0 0 1 0 2.0 0a1.0 1.0 0 1 0 -2.0 0M498.56 189.06a1.0 1.0 0 1 0 2.0 0a1.0 1.0 0 1 0 -2.0 0M499.00 189.15a1.0 1.0 0 1 0 2.0 0a1.0 1.0 0 1 0 -2.0 0M499.45 190.99a1.0 1.0 0 1 0 2.0 0a1.0 1.0 0 1 0 -2.0 0M499.89 188.65a1.0 1.0 0 1 0 2.0 0a1.0 1.0 0 1 0 -2.0 0M500.34 190.05a1.0 1.0 0 1 0 2.0 0a1.0 1.0 0 1 0 -2.0 0M500.79 189.99a1.0 1.0 0 1 0 2.0 0a1.0 1.0 0 1 0 -2.0 0M501.23 188.07a1.0 1.0 0 1 0 2.0 0a1.0 1.0 0 1 0 -2.0 0M501.68 188.77a1.0 1.0 0 1 0 2.0 0a1.0 1.0 0 1 0 -2.0 0M502.13 189.86a1.0 1.0 0 1 0 2.0 0a1.0 1.0 0 1 0 -2.0 0M502.57 191.17a1.0 1.0 0 1 0 2.0 0a1.0 1.0 0 1 0 -2.0 0M503.02 189.41a1.0 1.0 0 1 0 2.0 0a1.0 1.0 0 1 0 -2.0 0M503.46 189.07a1.0 1.0 0 1 0 2.0 0a1.0 1.0 0 1 0 -2.0 0M503.91 189.60a1.0 1.0 0 1 0 2.0 0a1.0 1.0 0 1 0 -2.0 0M504.36 190.61a1.0 1.0 0 1 0 2.0 0a1.0 1.0 0 1 0 -2.0 0M504.80 190.21a1.0 1.0 0 1 0 2.0 0a1.0 1.0 0 1 0 -2.0 0M505.25 190.61a1.0 1.0 0 1 0 2.0 0a1.0 1.0 0 1 0 -2.0 0M505.70 189.32a1.0 1.0 0 1 0 2.0 0a1.0 1.0 0 1 0 -2.0 0M506.14 188.78a1.0 1.0 0 1 0 2.0 0a1.0 1.0 0 1 0 -2.0 0M506.59 188.60a1.0 1.0 0 1 0 2.0 0a1.0 1.0 0 1 0 -2.0 0M507.04 190.12a1.0 1.0 0 1 0 2.0 0a1.0 1.0 0 1 0 -2.0 0M507.48 189.27a1.0 1.0 0 1 0 2.0 0a1.0 1.0 0 1 0 -2.0 0M507.93 188.99a1.0 1.0 0 1 0 2.0 0a1.0 1.0 0 1 0 -2.0 0M508.37 189.91a1.0 1.0 0 1 0 2.0 0a1.0 1.0 0 1 0 -2.0 0M508.82 189.59a1.0 1.0 0 1 0 2.0 0a1.0 1.0 0 1 0 -2.0 0M509.27 187.60a1.0 1.0 0 1 0 2.0 0a1.0 1.0 0 1 0 -2.0 0M509.71 189.26a1.0 1.0 0 1 0 2.0 0a1.0 1.0 0 1 0 -2.0 0M510.16 188.66a1.0 1.0 0 1 0 2.0 0a1.0 1.0 0 1 0 -2.0 0M510.61 189.81a1.0 1.0 0 1 0 2.0 0a1.0 1.0 0 1 0 -2.0 0M511.05 189.38a1.0 1.0 0 1 0 2.0 0a1.0 1.0 0 1 0 -2.0 0M511.50 190.91a1.0 1.0 0 1 0 2.0 0a1.0 1.0 0 1 0 -2.0 0M511.95 189.43a1.0 1.0 0 1 0 2.0 0a1.0 1.0 0 1 0 -2.0 0M512.39 188.36a1.0 1.0 0 1 0 2.0 0a1.0 1.0 0 1 0 -2.0 0M512.84 187.56a1.0 1.0 0 1 0 2.0 0a1.0 1.0 0 1 0 -2.0 0M513.28 188.34a1.0 1.0 0 1 0 2.0 0a1.0 1.0 0 1 0 -2.0 0M513.73 188.78a1.0 1.0 0 1 0 2.0 0a1.0 1.0 0 1 0 -2.0 0M514.18 189.32a1.0 1.0 0 1 0 2.0 0a1.0 1.0 0 1 0 -2.0 0M514.62 189.89a1.0 1.0 0 1 0 2.0 0a1.0 1.0 0 1 0 -2.0 0M515.07 189.50a1.0 1.0 0 1 0 2.0 0a1.0 1.0 0 1 0 -2.0 0M515.52 188.81a1.0 1.0 0 1 0 2.0 0a1.0 1.0 0 1 0 -2.0 0M515.96 190.03a1.0 1.0 0 1 0 2.0 0a1.0 1.0 0 1 0 -2.0 0M516.41 188.52a1.0 1.0 0 1 0 2.0 0a1.0 1.0 0 1 0 -2.0 0M516.85 190.19a1.0 1.0 0 1 0 2.0 0a1.0 1.0 0 1 0 -2.0 0M517.30 190.87a1.0 1.0 0 1 0 2.0 0a1.0 1.0 0 1 0 -2.0 0M517.75 190.20a1.0 1.0 0 1 0 2.0 0a1.0 1.0 0 1 0 -2.0 0M518.19 190.76a1.0 1.0 0 1 0 2.0 0a1.0 1.0 0 1 0 -2.0 0M518.64 190.50a1.0 1.0 0 1 0 2.0 0a1.0 1.0 0 1 0 -2.0 0M519.09 188.31a1.0 1.0 0 1 0 2.0 0a1.0 1.0 0 1 0 -2.0 0M519.53 189.46a1.0 1.0 0 1 0 2.0 0a1.0 1.0 0 1 0 -2.0 0M519.98 189.09a1.0 1.0 0 1 0 2.0 0a1.0 1.0 0 1 0 -2.0 0M520.43 188.26a1.0 1.0 0 1 0 2.0 0a1.0 1.0 0 1 0 -2.0 0M520.87 188.17a1.0 1.0 0 1 0 2.0 0a1.0 1.0 0 1 0 -2.0 0M521.32 189.70a1.0 1.0 0 1 0 2.0 0a1.0 1.0 0 1 0 -2.0 0M521.76 188.09a1.0 1.0 0 1 0 2.0 0a1.0 1.0 0 1 0 -2.0 0M522.21 188.91a1.0 1.0 0 1 0 2.0 0a1.0 1.0 0 1 0 -2.0 0M522.66 189.23a1.0 1.0 0 1 0 2.0 0a1.0 1.0 0 1 0 -2.0 0M523.10 188.84a1.0 1.0 0 1 0 2.0 0a1.0 1.0 0 1 0 -2.0 0M523.55 190.46a1.0 1.0 0 1 0 2.0 0a1.0 1.0 0 1 0 -2.0 0M524.00 189.90a1.0 1.0 0 1 0 2.0 0a1.0 1.0 0 1 0 -2.0 0M524.44 189.30a1.0 1.0 0 1 0 2.0 0a1.0 1.0 0 1 0 -2.0 0M524.89 188.67a1.0 1.0 0 1 0 2.0 0a1.0 1.0 0 1 0 -2.0 0M525.34 189.52a1.0 1.0 0 1 0 2.0 0a1.0 1.0 0 1 0 -2.0 0M525.78 189.30a1.0 1.0 0 1 0 2.0 0a1.0 1.0 0 1 0 -2.0 0M526.23 188.33a1.0 1.0 0 1 0 2.0 0a1.0 1.0 0 1 0 -2.0 0M526.67 187.94a1.0 1.0 0 1 0 2.0 0a1.0 1.0 0 1 0 -2.0 0M527.12 188.50a1.0 1.0 0 1 0 2.0 0a1.0 1.0 0 1 0 -2.0 0M527.57 188.05a1.0 1.0 0 1 0 2.0 0a1.0 1.0 0 1 0 -2.0 0M528.01 189.50a1.0 1.0 0 1 0 2.0 0a1.0 1.0 0 1 0 -2.0 0M528.46 189.41a1.0 1.0 0 1 0 2.0 0a1.0 1.0 0 1 0 -2.0 0M528.91 188.86a1.0 1.0 0 1 0 2.0 0a1.0 1.0 0 1 0 -2.0 0M529.35 189.39a1.0 1.0 0 1 0 2.0 0a1.0 1.0 0 1 0 -2.0 0M529.80 189.56a1.0 1.0 0 1 0 2.0 0a1.0 1.0 0 1 0 -2.0 0M530.24 187.67a1.0 1.0 0 1 0 2.0 0a1.0 1.0 0 1 0 -2.0 0M530.69 189.28a1.0 1.0 0 1 0 2.0 0a1.0 1.0 0 1 0 -2.0 0M531.14 189.94a1.0 1.0 0 1 0 2.0 0a1.0 1.0 0 1 0 -2.0 0M531.58 188.67a1.0 1.0 0 1 0 2.0 0a1.0 1.0 0 1 0 -2.0 0M532.03 187.49a1.0 1.0 0 1 0 2.0 0a1.0 1.0 0 1 0 -2.0 0M532.48 189.01a1.0 1.0 0 1 0 2.0 0a1.0 1.0 0 1 0 -2.0 0M532.92 188.00a1.0 1.0 0 1 0 2.0 0a1.0 1.0 0 1 0 -2.0 0M533.37 189.45a1.0 1.0 0 1 0 2.0 0a1.0 1.0 0 1 0 -2.0 0M533.82 189.49a1.0 1.0 0 1 0 2.0 0a1.0 1.0 0 1 0 -2.0 0M534.26 189.65a1.0 1.0 0 1 0 2.0 0a1.0 1.0 0 1 0 -2.0 0M534.71 189.17a1.0 1.0 0 1 0 2.0 0a1.0 1.0 0 1 0 -2.0 0M535.15 187.44a1.0 1.0 0 1 0 2.0 0a1.0 1.0 0 1 0 -2.0 0M535.60 190.04a1.0 1.0 0 1 0 2.0 0a1.0 1.0 0 1 0 -2.0 0M536.05 187.59a1.0 1.0 0 1 0 2.0 0a1.0 1.0 0 1 0 -2.0 0M536.49 189.89a1.0 1.0 0 1 0 2.0 0a1.0 1.0 0 1 0 -2.0 0M536.94 189.21a1.0 1.0 0 1 0 2.0 0a1.0 1.0 0 1 0 -2.0 0M537.39 188.27a1.0 1.0 0 1 0 2.0 0a1.0 1.0 0 1 0 -2.0 0M537.83 188.44a1.0 1.0 0 1 0 2.0 0a1.0 1.0 0 1 0 -2.0 0M538.28 188.74a1.0 1.0 0 1 0 2.0 0a1.0 1.0 0 1 0 -2.0 0M538.73 190.42a1.0 1.0 0 1 0 2.0 0a1.0 1.0 0 1 0 -2.0 0M539.17 188.66a1.0 1.0 0 1 0 2.0 0a1.0 1.0 0 1 0 -2.0 0M539.62 189.86a1.0 1.0 0 1 0 2.0 0a1.0 1.0 0 1 0 -2.0 0M540.06 186.72a1.0 1.0 0 1 0 2.0 0a1.0 1.0 0 1 0 -2.0 0M540.51 189.14a1.0 1.0 0 1 0 2.0 0a1.0 1.0 0 1 0 -2.0 0M540.96 188.78a1.0 1.0 0 1 0 2.0 0a1.0 1.0 0 1 0 -2.0 0M541.40 189.94a1.0 1.0 0 1 0 2.0 0a1.0 1.0 0 1 0 -2.0 0M541.85 189.35a1.0 1.0 0 1 0 2.0 0a1.0 1.0 0 1 0 -2.0 0M542.30 190.05a1.0 1.0 0 1 0 2.0 0a1.0 1.0 0 1 0 -2.0 0M542.74 188.06a1.0 1.0 0 1 0 2.0 0a1.0 1.0 0 1 0 -2.0 0M543.19 189.14a1.0 1.0 0 1 0 2.0 0a1.0 1.0 0 1 0 -2.0 0M543.63 188.41a1.0 1.0 0 1 0 2.0 0a1.0 1.0 0 1 0 -2.0 0M544.08 189.49a1.0 1.0 0 1 0 2.0 0a1.0 1.0 0 1 0 -2.0 0M544.53 189.32a1.0 1.0 0 1 0 2.0 0a1.0 1.0 0 1 0 -2.0 0M544.97 187.76a1.0 1.0 0 1 0 2.0 0a1.0 1.0 0 1 0 -2.0 0M545.42 189.72a1.0 1.0 0 1 0 2.0 0a1.0 1.0 0 1 0 -2.0 0M545.87 190.44a1.0 1.0 0 1 0 2.0 0a1.0 1.0 0 1 0 -2.0 0M546.31 188.50a1.0 1.0 0 1 0 2.0 0a1.0 1.0 0 1 0 -2.0 0M546.76 189.85a1.0 1.0 0 1 0 2.0 0a1.0 1.0 0 1 0 -2.0 0M547.21 189.23a1.0 1.0 0 1 0 2.0 0a1.0 1.0 0 1 0 -2.0 0M547.65 188.04a1.0 1.0 0 1 0 2.0 0a1.0 1.0 0 1 0 -2.0 0M548.10 189.54a1.0 1.0 0 1 0 2.0 0a1.0 1.0 0 1 0 -2.0 0M548.54 188.06a1.0 1.0 0 1 0 2.0 0a1.0 1.0 0 1 0 -2.0 0M548.99 189.41a1.0 1.0 0 1 0 2.0 0a1.0 1.0 0 1 0 -2.0 0M549.44 187.51a1.0 1.0 0 1 0 2.0 0a1.0 1.0 0 1 0 -2.0 0M549.88 187.65a1.0 1.0 0 1 0 2.0 0a1.0 1.0 0 1 0 -2.0 0M550.33 189.21a1.0 1.0 0 1 0 2.0 0a1.0 1.0 0 1 0 -2.0 0M550.78 188.97a1.0 1.0 0 1 0 2.0 0a1.0 1.0 0 1 0 -2.0 0M551.22 189.51a1.0 1.0 0 1 0 2.0 0a1.0 1.0 0 1 0 -2.0 0M551.67 188.60a1.0 1.0 0 1 0 2.0 0a1.0 1.0 0 1 0 -2.0 0M552.12 187.78a1.0 1.0 0 1 0 2.0 0a1.0 1.0 0 1 0 -2.0 0M552.56 190.08a1.0 1.0 0 1 0 2.0 0a1.0 1.0 0 1 0 -2.0 0M553.01 188.07a1.0 1.0 0 1 0 2.0 0a1.0 1.0 0 1 0 -2.0 0M553.45 190.06a1.0 1.0 0 1 0 2.0 0a1.0 1.0 0 1 0 -2.0 0M553.90 189.70a1.0 1.0 0 1 0 2.0 0a1.0 1.0 0 1 0 -2.0 0M554.35 190.55a1.0 1.0 0 1 0 2.0 0a1.0 1.0 0 1 0 -2.0 0M554.79 187.20a1.0 1.0 0 1 0 2.0 0a1.0 1.0 0 1 0 -2.0 0M555.24 189.03a1.0 1.0 0 1 0 2.0 0a1.0 1.0 0 1 0 -2.0 0M555.69 188.91a1.0 1.0 0 1 0 2.0 0a1.0 1.0 0 1 0 -2.0 0M556.13 189.76a1.0 1.0 0 1 0 2.0 0a1.0 1.0 0 1 0 -2.0 0M556.58 188.28a1.0 1.0 0 1 0 2.0 0a1.0 1.0 0 1 0 -2.0 0M557.02 191.09a1.0 1.0 0 1 0 2.0 0a1.0 1.0 0 1 0 -2.0 0M557.47 189.28a1.0 1.0 0 1 0 2.0 0a1.0 1.0 0 1 0 -2.0 0M557.92 187.42a1.0 1.0 0 1 0 2.0 0a1.0 1.0 0 1 0 -2.0 0M558.36 189.73a1.0 1.0 0 1 0 2.0 0a1.0 1.0 0 1 0 -2.0 0M558.81 189.45a1.0 1.0 0 1 0 2.0 0a1.0 1.0 0 1 0 -2.0 0M559.26 188.94a1.0 1.0 0 1 0 2.0 0a1.0 1.0 0 1 0 -2.0 0M559.70 190.30a1.0 1.0 0 1 0 2.0 0a1.0 1.0 0 1 0 -2.0 0M560.15 189.63a1.0 1.0 0 1 0 2.0 0a1.0 1.0 0 1 0 -2.0 0M560.60 188.87a1.0 1.0 0 1 0 2.0 0a1.0 1.0 0 1 0 -2.0 0M561.04 189.61a1.0 1.0 0 1 0 2.0 0a1.0 1.0 0 1 0 -2.0 0M561.49 189.51a1.0 1.0 0 1 0 2.0 0a1.0 1.0 0 1 0 -2.0 0M561.93 190.21a1.0 1.0 0 1 0 2.0 0a1.0 1.0 0 1 0 -2.0 0M562.38 189.69a1.0 1.0 0 1 0 2.0 0a1.0 1.0 0 1 0 -2.0 0M562.83 189.98a1.0 1.0 0 1 0 2.0 0a1.0 1.0 0 1 0 -2.0 0M563.27 188.82a1.0 1.0 0 1 0 2.0 0a1.0 1.0 0 1 0 -2.0 0M563.72 189.52a1.0 1.0 0 1 0 2.0 0a1.0 1.0 0 1 0 -2.0 0M564.17 190.43a1.0 1.0 0 1 0 2.0 0a1.0 1.0 0 1 0 -2.0 0M564.61 192.41a1.0 1.0 0 1 0 2.0 0a1.0 1.0 0 1 0 -2.0 0M565.06 189.71a1.0 1.0 0 1 0 2.0 0a1.0 1.0 0 1 0 -2.0 0M565.51 189.74a1.0 1.0 0 1 0 2.0 0a1.0 1.0 0 1 0 -2.0 0M565.95 191.26a1.0 1.0 0 1 0 2.0 0a1.0 1.0 0 1 0 -2.0 0M566.40 192.27a1.0 1.0 0 1 0 2.0 0a1.0 1.0 0 1 0 -2.0 0M566.84 191.58a1.0 1.0 0 1 0 2.0 0a1.0 1.0 0 1 0 -2.0 0M567.29 189.84a1.0 1.0 0 1 0 2.0 0a1.0 1.0 0 1 0 -2.0 0M567.74 191.64a1.0 1.0 0 1 0 2.0 0a1.0 1.0 0 1 0 -2.0 0M568.18 191.18a1.0 1.0 0 1 0 2.0 0a1.0 1.0 0 1 0 -2.0 0M568.63 190.65a1.0 1.0 0 1 0 2.0 0a1.0 1.0 0 1 0 -2.0 0M569.08 189.83a1.0 1.0 0 1 0 2.0 0a1.0 1.0 0 1 0 -2.0 0M569.52 190.98a1.0 1.0 0 1 0 2.0 0a1.0 1.0 0 1 0 -2.0 0M569.97 191.11a1.0 1.0 0 1 0 2.0 0a1.0 1.0 0 1 0 -2.0 0M570.41 191.57a1.0 1.0 0 1 0 2.0 0a1.0 1.0 0 1 0 -2.0 0M570.86 189.73a1.0 1.0 0 1 0 2.0 0a1.0 1.0 0 1 0 -2.0 0M571.31 190.28a1.0 1.0 0 1 0 2.0 0a1.0 1.0 0 1 0 -2.0 0M571.75 191.36a1.0 1.0 0 1 0 2.0 0a1.0 1.0 0 1 0 -2.0 0M572.20 192.56a1.0 1.0 0 1 0 2.0 0a1.0 1.0 0 1 0 -2.0 0M572.65 192.09a1.0 1.0 0 1 0 2.0 0a1.0 1.0 0 1 0 -2.0 0M573.09 190.96a1.0 1.0 0 1 0 2.0 0a1.0 1.0 0 1 0 -2.0 0M573.54 192.15a1.0 1.0 0 1 0 2.0 0a1.0 1.0 0 1 0 -2.0 0M573.99 190.81a1.0 1.0 0 1 0 2.0 0a1.0 1.0 0 1 0 -2.0 0M574.43 191.33a1.0 1.0 0 1 0 2.0 0a1.0 1.0 0 1 0 -2.0 0M574.88 191.46a1.0 1.0 0 1 0 2.0 0a1.0 1.0 0 1 0 -2.0 0M575.32 191.20a1.0 1.0 0 1 0 2.0 0a1.0 1.0 0 1 0 -2.0 0M575.77 191.40a1.0 1.0 0 1 0 2.0 0a1.0 1.0 0 1 0 -2.0 0M576.22 192.62a1.0 1.0 0 1 0 2.0 0a1.0 1.0 0 1 0 -2.0 0M576.66 192.18a1.0 1.0 0 1 0 2.0 0a1.0 1.0 0 1 0 -2.0 0M577.11 189.88a1.0 1.0 0 1 0 2.0 0a1.0 1.0 0 1 0 -2.0 0M577.56 192.99a1.0 1.0 0 1 0 2.0 0a1.0 1.0 0 1 0 -2.0 0M578.00 192.37a1.0 1.0 0 1 0 2.0 0a1.0 1.0 0 1 0 -2.0 0M578.45 191.05a1.0 1.0 0 1 0 2.0 0a1.0 1.0 0 1 0 -2.0 0M578.90 192.13a1.0 1.0 0 1 0 2.0 0a1.0 1.0 0 1 0 -2.0 0M579.34 192.72a1.0 1.0 0 1 0 2.0 0a1.0 1.0 0 1 0 -2.0 0M579.79 193.19a1.0 1.0 0 1 0 2.0 0a1.0 1.0 0 1 0 -2.0 0M580.23 191.58a1.0 1.0 0 1 0 2.0 0a1.0 1.0 0 1 0 -2.0 0M580.68 191.18a1.0 1.0 0 1 0 2.0 0a1.0 1.0 0 1 0 -2.0 0M581.13 190.87a1.0 1.0 0 1 0 2.0 0a1.0 1.0 0 1 0 -2.0 0M581.57 192.06a1.0 1.0 0 1 0 2.0 0a1.0 1.0 0 1 0 -2.0 0M582.02 191.22a1.0 1.0 0 1 0 2.0 0a1.0 1.0 0 1 0 -2.0 0M582.47 193.05a1.0 1.0 0 1 0 2.0 0a1.0 1.0 0 1 0 -2.0 0M582.91 192.02a1.0 1.0 0 1 0 2.0 0a1.0 1.0 0 1 0 -2.0 0M583.36 192.78a1.0 1.0 0 1 0 2.0 0a1.0 1.0 0 1 0 -2.0 0M583.80 192.05a1.0 1.0 0 1 0 2.0 0a1.0 1.0 0 1 0 -2.0 0M584.25 191.57a1.0 1.0 0 1 0 2.0 0a1.0 1.0 0 1 0 -2.0 0M584.70 191.31a1.0 1.0 0 1 0 2.0 0a1.0 1.0 0 1 0 -2.0 0M585.14 193.09a1.0 1.0 0 1 0 2.0 0a1.0 1.0 0 1 0 -2.0 0M585.59 191.03a1.0 1.0 0 1 0 2.0 0a1.0 1.0 0 1 0 -2.0 0M586.04 192.46a1.0 1.0 0 1 0 2.0 0a1.0 1.0 0 1 0 -2.0 0M586.48 192.85a1.0 1.0 0 1 0 2.0 0a1.0 1.0 0 1 0 -2.0 0M586.93 192.01a1.0 1.0 0 1 0 2.0 0a1.0 1.0 0 1 0 -2.0 0M587.38 193.05a1.0 1.0 0 1 0 2.0 0a1.0 1.0 0 1 0 -2.0 0M587.82 191.68a1.0 1.0 0 1 0 2.0 0a1.0 1.0 0 1 0 -2.0 0M588.27 191.34a1.0 1.0 0 1 0 2.0 0a1.0 1.0 0 1 0 -2.0 0M588.71 191.67a1.0 1.0 0 1 0 2.0 0a1.0 1.0 0 1 0 -2.0 0M589.16 190.94a1.0 1.0 0 1 0 2.0 0a1.0 1.0 0 1 0 -2.0 0M589.61 191.59a1.0 1.0 0 1 0 2.0 0a1.0 1.0 0 1 0 -2.0 0M590.05 191.22a1.0 1.0 0 1 0 2.0 0a1.0 1.0 0 1 0 -2.0 0M590.50 192.39a1.0 1.0 0 1 0 2.0 0a1.0 1.0 0 1 0 -2.0 0M590.95 191.00a1.0 1.0 0 1 0 2.0 0a1.0 1.0 0 1 0 -2.0 0M591.39 191.69a1.0 1.0 0 1 0 2.0 0a1.0 1.0 0 1 0 -2.0 0M591.84 191.25a1.0 1.0 0 1 0 2.0 0a1.0 1.0 0 1 0 -2.0 0M592.29 190.85a1.0 1.0 0 1 0 2.0 0a1.0 1.0 0 1 0 -2.0 0M592.73 190.51a1.0 1.0 0 1 0 2.0 0a1.0 1.0 0 1 0 -2.0 0M593.18 192.02a1.0 1.0 0 1 0 2.0 0a1.0 1.0 0 1 0 -2.0 0M593.62 191.86a1.0 1.0 0 1 0 2.0 0a1.0 1.0 0 1 0 -2.0 0M594.07 191.11a1.0 1.0 0 1 0 2.0 0a1.0 1.0 0 1 0 -2.0 0M594.52 189.00a1.0 1.0 0 1 0 2.0 0a1.0 1.0 0 1 0 -2.0 0M594.96 189.04a1.0 1.0 0 1 0 2.0 0a1.0 1.0 0 1 0 -2.0 0M595.41 187.52a1.0 1.0 0 1 0 2.0 0a1.0 1.0 0 1 0 -2.0 0M595.86 186.29a1.0 1.0 0 1 0 2.0 0a1.0 1.0 0 1 0 -2.0 0M596.30 188.01a1.0 1.0 0 1 0 2.0 0a1.0 1.0 0 1 0 -2.0 0M596.75 189.03a1.0 1.0 0 1 0 2.0 0a1.0 1.0 0 1 0 -2.0 0M597.19 191.24a1.0 1.0 0 1 0 2.0 0a1.0 1.0 0 1 0 -2.0 0M597.64 190.80a1.0 1.0 0 1 0 2.0 0a1.0 1.0 0 1 0 -2.0 0M598.09 189.41a1.0 1.0 0 1 0 2.0 0a1.0 1.0 0 1 0 -2.0 0M598.53 187.40a1.0 1.0 0 1 0 2.0 0a1.0 1.0 0 1 0 -2.0 0M598.98 187.27a1.0 1.0 0 1 0 2.0 0a1.0 1.0 0 1 0 -2.0 0M599.43 187.46a1.0 1.0 0 1 0 2.0 0a1.0 1.0 0 1 0 -2.0 0M599.87 187.49a1.0 1.0 0 1 0 2.0 0a1.0 1.0 0 1 0 -2.0 0M600.32 185.25a1.0 1.0 0 1 0 2.0 0a1.0 1.0 0 1 0 -2.0 0M600.77 185.93a1.0 1.0 0 1 0 2.0 0a1.0 1.0 0 1 0 -2.0 0M601.21 185.36a1.0 1.0 0 1 0 2.0 0a1.0 1.0 0 1 0 -2.0 0M601.66 184.99a1.0 1.0 0 1 0 2.0 0a1.0 1.0 0 1 0 -2.0 0M602.10 186.72a1.0 1.0 0 1 0 2.0 0a1.0 1.0 0 1 0 -2.0 0M602.55 187.54a1.0 1.0 0 1 0 2.0 0a1.0 1.0 0 1 0 -2.0 0M603.00 183.51a1.0 1.0 0 1 0 2.0 0a1.0 1.0 0 1 0 -2.0 0M603.44 183.35a1.0 1.0 0 1 0 2.0 0a1.0 1.0 0 1 0 -2.0 0M603.89 184.54a1.0 1.0 0 1 0 2.0 0a1.0 1.0 0 1 0 -2.0 0M604.49 184.68a0.85 0.85 0 1 0 1.7 0a0.85 0.85 0 1 0 -1.7 0M604.93 177.83a0.85 0.85 0 1 0 1.7 0a0.85 0.85 0 1 0 -1.7 0M605.38 184.86a0.85 0.85 0 1 0 1.7 0a0.85 0.85 0 1 0 -1.7 0M605.83 183.22a0.85 0.85 0 1 0 1.7 0a0.85 0.85 0 1 0 -1.7 0M606.27 181.72a0.85 0.85 0 1 0 1.7 0a0.85 0.85 0 1 0 -1.7 0M606.72 184.84a0.85 0.85 0 1 0 1.7 0a0.85 0.85 0 1 0 -1.7 0M607.16 181.43a0.85 0.85 0 1 0 1.7 0a0.85 0.85 0 1 0 -1.7 0M607.61 177.03a0.85 0.85 0 1 0 1.7 0a0.85 0.85 0 1 0 -1.7 0M608.06 178.79a0.85 0.85 0 1 0 1.7 0a0.85 0.85 0 1 0 -1.7 0M608.50 179.20a0.85 0.85 0 1 0 1.7 0a0.85 0.85 0 1 0 -1.7 0M608.95 178.97a0.85 0.85 0 1 0 1.7 0a0.85 0.85 0 1 0 -1.7 0M609.40 179.80a0.85 0.85 0 1 0 1.7 0a0.85 0.85 0 1 0 -1.7 0M609.84 177.43a0.85 0.85 0 1 0 1.7 0a0.85 0.85 0 1 0 -1.7 0M610.29 179.80a0.85 0.85 0 1 0 1.7 0a0.85 0.85 0 1 0 -1.7 0M610.73 180.12a0.85 0.85 0 1 0 1.7 0a0.85 0.85 0 1 0 -1.7 0M611.18 178.54a0.85 0.85 0 1 0 1.7 0a0.85 0.85 0 1 0 -1.7 0M611.63 176.55a0.85 0.85 0 1 0 1.7 0a0.85 0.85 0 1 0 -1.7 0M612.07 177.90a0.85 0.85 0 1 0 1.7 0a0.85 0.85 0 1 0 -1.7 0M612.52 177.02a0.85 0.85 0 1 0 1.7 0a0.85 0.85 0 1 0 -1.7 0M612.97 183.51a0.85 0.85 0 1 0 1.7 0a0.85 0.85 0 1 0 -1.7 0M613.41 175.68a0.85 0.85 0 1 0 1.7 0a0.85 0.85 0 1 0 -1.7 0M613.86 172.85a0.85 0.85 0 1 0 1.7 0a0.85 0.85 0 1 0 -1.7 0M614.31 175.25a0.85 0.85 0 1 0 1.7 0a0.85 0.85 0 1 0 -1.7 0M614.75 179.21a0.85 0.85 0 1 0 1.7 0a0.85 0.85 0 1 0 -1.7 0M615.20 180.45a0.85 0.85 0 1 0 1.7 0a0.85 0.85 0 1 0 -1.7 0M615.64 177.68a0.85 0.85 0 1 0 1.7 0a0.85 0.85 0 1 0 -1.7 0M616.09 180.70a0.85 0.85 0 1 0 1.7 0a0.85 0.85 0 1 0 -1.7 0M616.54 176.55a0.85 0.85 0 1 0 1.7 0a0.85 0.85 0 1 0 -1.7 0M615.55 173.20a0.85 0.85 0 1 0 1.7 0a0.85 0.85 0 1 0 -1.7 0M616.95 174.60a0.85 0.85 0 1 0 1.7 0a0.85 0.85 0 1 0 -1.7 0M619.05 173.20a0.85 0.85 0 1 0 1.7 0a0.85 0.85 0 1 0 -1.7 0M620.40 171.10a0.85 0.85 0 1 0 1.7 0a0.85 0.85 0 1 0 -1.7 0M621.15 169.00a0.85 0.85 0 1 0 1.7 0a0.85 0.85 0 1 0 -1.7 0M622.45 167.00a0.85 0.85 0 1 0 1.7 0a0.85 0.85 0 1 0 -1.7 0M622.15 166.00a0.85 0.85 0 1 0 1.7 0a0.85 0.85 0 1 0 -1.7 0M616.95 180.80a0.85 0.85 0 1 0 1.7 0a0.85 0.85 0 1 0 -1.7 0M619.05 183.60a0.85 0.85 0 1 0 1.7 0a0.85 0.85 0 1 0 -1.7 0M622.45 181.50a0.85 0.85 0 1 0 1.7 0a0.85 0.85 0 1 0 -1.7 0M623.15 184.30a0.85 0.85 0 1 0 1.7 0a0.85 0.85 0 1 0 -1.7 0M623.85 179.40a0.85 0.85 0 1 0 1.7 0a0.85 0.85 0 1 0 -1.7 0M620.55 178.00a0.85 0.85 0 1 0 1.7 0a0.85 0.85 0 1 0 -1.7 0M623.35 178.60a0.85 0.85 0 1 0 1.7 0a0.85 0.85 0 1 0 -1.7 0M624.75 180.00a0.85 0.85 0 1 0 1.7 0a0.85 0.85 0 1 0 -1.7 0M622.65 182.10a0.85 0.85 0 1 0 1.7 0a0.85 0.85 0 1 0 -1.7 0M626.15 187.70a0.85 0.85 0 1 0 1.7 0a0.85 0.85 0 1 0 -1.7 0M625.45 193.90a0.85 0.85 0 1 0 1.7 0a0.85 0.85 0 1 0 -1.7 0M625.95 198.20a0.85 0.85 0 1 0 1.7 0a0.85 0.85 0 1 0 -1.7 0M626.75 200.40a0.85 0.85 0 1 0 1.7 0a0.85 0.85 0 1 0 -1.7 0M627.25 209.00a0.85 0.85 0 1 0 1.7 0a0.85 0.85 0 1 0 -1.7 0M627.75 209.90a0.85 0.85 0 1 0 1.7 0a0.85 0.85 0 1 0 -1.7 0M628.65 222.00a0.85 0.85 0 1 0 1.7 0a0.85 0.85 0 1 0 -1.7 0M634.75 205.00a0.85 0.85 0 1 0 1.7 0a0.85 0.85 0 1 0 -1.7 0M635.15 207.80a0.85 0.85 0 1 0 1.7 0a0.85 0.85 0 1 0 -1.7 0M634.45 223.00a0.85 0.85 0 1 0 1.7 0a0.85 0.85 0 1 0 -1.7 0M636.55 165.40a0.85 0.85 0 1 0 1.7 0a0.85 0.85 0 1 0 -1.7 0M640.75 163.60a0.85 0.85 0 1 0 1.7 0a0.85 0.85 0 1 0 -1.7 0M637.95 168.20a0.85 0.85 0 1 0 1.7 0a0.85 0.85 0 1 0 -1.7 0M637.25 170.30a0.85 0.85 0 1 0 1.7 0a0.85 0.85 0 1 0 -1.7 0M641.45 174.20a0.85 0.85 0 1 0 1.7 0a0.85 0.85 0 1 0 -1.7 0M638.65 178.60a0.85 0.85 0 1 0 1.7 0a0.85 0.85 0 1 0 -1.7 0M640.75 180.70a0.85 0.85 0 1 0 1.7 0a0.85 0.85 0 1 0 -1.7 0M643.45 178.60a0.85 0.85 0 1 0 1.7 0a0.85 0.85 0 1 0 -1.7 0M636.55 183.50a0.85 0.85 0 1 0 1.7 0a0.85 0.85 0 1 0 -1.7 0M642.15 187.70a0.85 0.85 0 1 0 1.7 0a0.85 0.85 0 1 0 -1.7 0M643.45 193.90a0.85 0.85 0 1 0 1.7 0a0.85 0.85 0 1 0 -1.7 0M644.15 196.70a0.85 0.85 0 1 0 1.7 0a0.85 0.85 0 1 0 -1.7 0M644.85 201.80a0.85 0.85 0 1 0 1.7 0a0.85 0.85 0 1 0 -1.7 0M646.25 202.20a0.85 0.85 0 1 0 1.7 0a0.85 0.85 0 1 0 -1.7 0M646.95 202.50a0.85 0.85 0 1 0 1.7 0a0.85 0.85 0 1 0 -1.7 0M647.65 195.60a0.85 0.85 0 1 0 1.7 0a0.85 0.85 0 1 0 -1.7 0M645.55 206.40a0.85 0.85 0 1 0 1.7 0a0.85 0.85 0 1 0 -1.7 0M617.65 177.50a0.85 0.85 0 1 0 1.7 0a0.85 0.85 0 1 0 -1.7 0M619.65 176.50a0.85 0.85 0 1 0 1.7 0a0.85 0.85 0 1 0 -1.7 0M614.15 179.00a0.85 0.85 0 1 0 1.7 0a0.85 0.85 0 1 0 -1.7 0M612.15 185.70a0.85 0.85 0 1 0 1.7 0a0.85 0.85 0 1 0 -1.7 0M609.15 187.00a0.85 0.85 0 1 0 1.7 0a0.85 0.85 0 1 0 -1.7 0" fill="#1f77b4"/></g>
<path d="M381.50 225.00v3.0 M390.43 225.00v1.8 M399.35 225.00v1.8 M408.28 225.00v1.8 M417.21 225.00v1.8 M426.13 225.00v3.0 M435.06 225.00v1.8 M443.99 225.00v1.8 M452.91 225.00v1.8 M461.84 225.00v1.8 M470.77 225.00v3.0 M479.69 225.00v1.8 M488.62 225.00v1.8 M497.55 225.00v1.8 M506.47 225.00v1.8 M515.40 225.00v3.0 M524.33 225.00v1.8 M533.25 225.00v1.8 M542.18 225.00v1.8 M551.11 225.00v1.8 M560.03 225.00v3.0 M568.96 225.00v1.8 M577.89 225.00v1.8 M586.81 225.00v1.8 M595.74 225.00v1.8 M604.67 225.00v3.0 M613.59 225.00v1.8 M622.52 225.00v1.8 M631.45 225.00v1.8 M640.37 225.00v1.8 M649.30 225.00v3.0 M381.50 224.81h-1.8 M381.50 219.97h-1.8 M381.50 215.12h-1.8 M381.50 210.28h-3.0 M381.50 205.44h-1.8 M381.50 200.59h-1.8 M381.50 195.75h-1.8 M381.50 190.90h-3.0 M381.50 186.06h-1.8 M381.50 181.21h-1.8 M381.50 176.37h-1.8 M381.50 171.52h-3.0 M381.50 166.68h-1.8 M381.50 161.83h-1.8 M381.50 156.99h-1.8" stroke="#3a3a3a" stroke-width="0.8" fill="none"/>
<text x="381.50" y="240.0" font-family='"Liberation Sans", sans-serif' font-size="12.2" text-anchor="middle" fill="#111">8</text>
<text x="426.13" y="240.0" font-family='"Liberation Sans", sans-serif' font-size="12.2" text-anchor="middle" fill="#111">9</text>
<text x="470.77" y="240.0" font-family='"Liberation Sans", sans-serif' font-size="12.2" text-anchor="middle" fill="#111">10</text>
<text x="515.40" y="240.0" font-family='"Liberation Sans", sans-serif' font-size="12.2" text-anchor="middle" fill="#111">11</text>
<text x="560.03" y="240.0" font-family='"Liberation Sans", sans-serif' font-size="12.2" text-anchor="middle" fill="#111">12</text>
<text x="604.67" y="240.0" font-family='"Liberation Sans", sans-serif' font-size="12.2" text-anchor="middle" fill="#111">13</text>
<text x="649.30" y="240.0" font-family='"Liberation Sans", sans-serif' font-size="12.2" text-anchor="middle" fill="#111">14</text>
<text x="375.6" y="176.42" font-family='"Liberation Sans", sans-serif' font-size="12.3" text-anchor="end" textLength="7.2" lengthAdjust="spacingAndGlyphs" fill="#111">2</text>
<text x="375.6" y="195.80" font-family='"Liberation Sans", sans-serif' font-size="12.3" text-anchor="end" textLength="7.2" lengthAdjust="spacingAndGlyphs" fill="#111">0</text>
<text x="375.6" y="215.18" font-family='"Liberation Sans", sans-serif' font-size="12.3" text-anchor="end" textLength="16.6" lengthAdjust="spacingAndGlyphs" fill="#111">−2</text>
<text x="515" y="254.1" font-family='"Liberation Sans", sans-serif' font-size="11.9" text-anchor="middle" textLength="78.5" lengthAdjust="spacingAndGlyphs" fill="#111">Energy (keV)</text>
<text transform="translate(351.2 190.9) rotate(-90)" font-family='"Liberation Sans", sans-serif' font-size="12" text-anchor="middle" textLength="78.5" lengthAdjust="spacingAndGlyphs" fill="#111">Residuals (<tspan font-style="italic">σ</tspan>)</text>
<rect x="381.5" y="157.0" width="267.79999999999995" height="68.0" fill="none" stroke="#666" stroke-width="1.3"/>
<text x="9.5" y="283.9" font-family='"Liberation Serif", serif' font-size="16.6" textLength="296.5" lengthAdjust="spacingAndGlyphs" fill="#111">(a) Energy dependent peak position shift.</text>
<text x="359.7" y="283.9" font-family='"Liberation Serif", serif' font-size="16.6" textLength="276.5" lengthAdjust="spacingAndGlyphs" fill="#111">(b) Simulated and measured spectrum.</text>
</svg></body></html>
